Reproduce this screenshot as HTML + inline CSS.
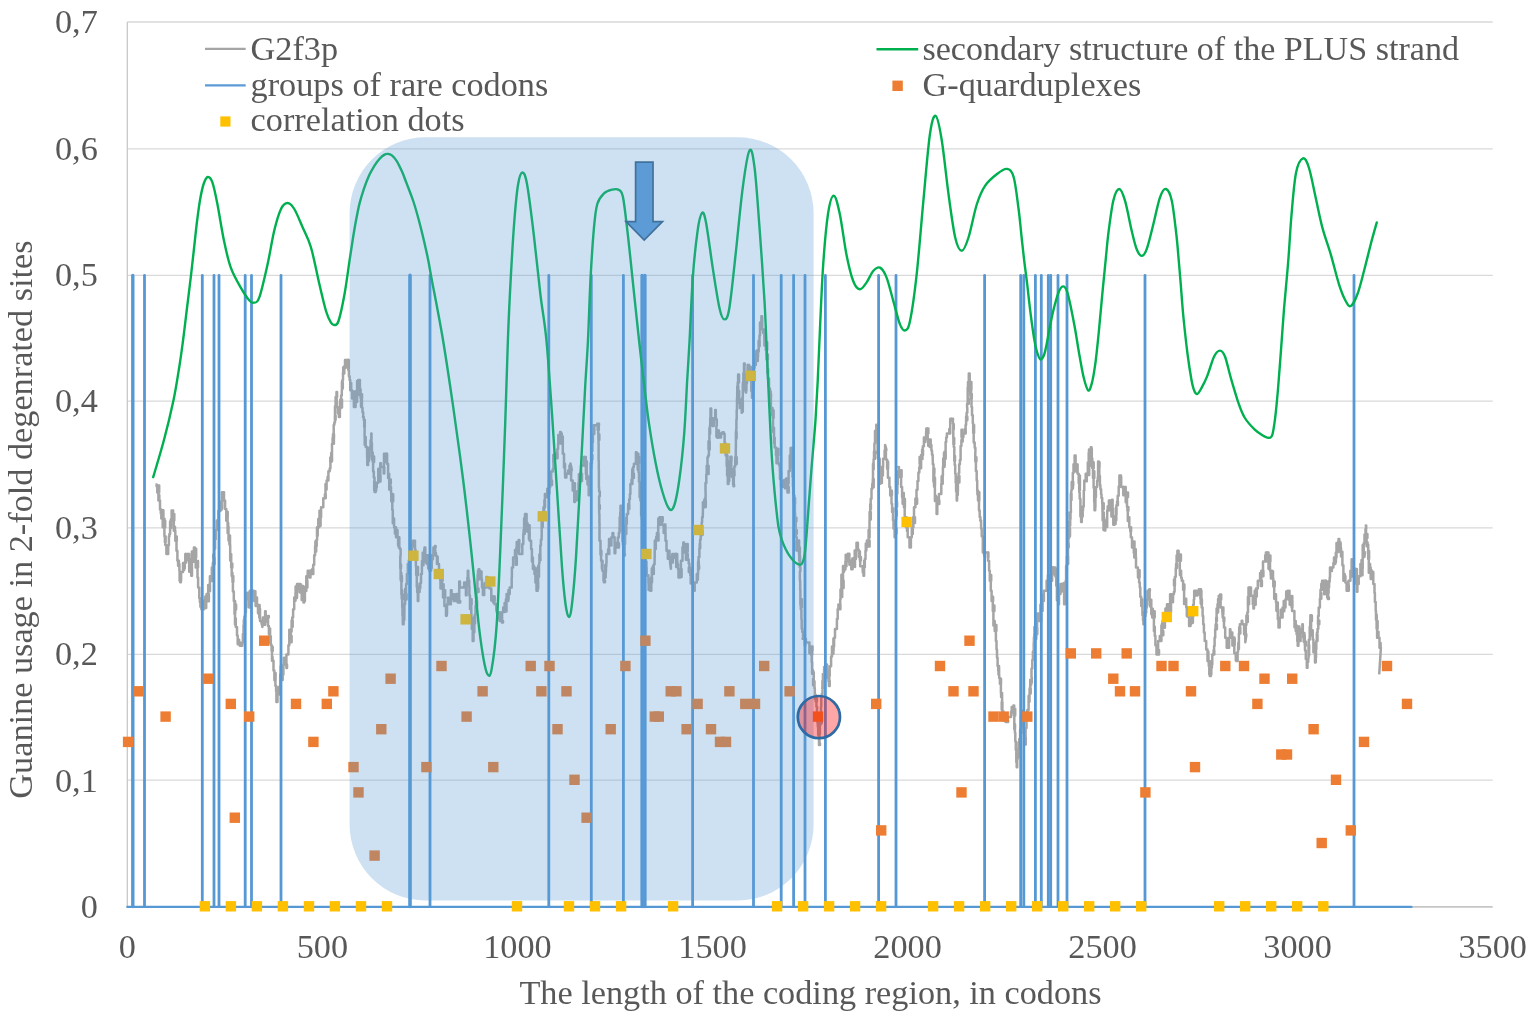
<!DOCTYPE html>
<html><head><meta charset="utf-8"><title>Guanine usage chart</title>
<style>html,body{margin:0;padding:0;background:#fff}svg{display:block}text{font-family:"Liberation Serif",serif;font-size:34.25px;fill:#595959}</style></head><body>
<svg width="1535" height="1017" viewBox="0 0 1535 1017">
<rect width="1535" height="1017" fill="#fff"/>
<defs><filter id="soft" x="0" y="0" width="100%" height="100%" filterUnits="objectBoundingBox"><feGaussianBlur stdDeviation="0.35"/></filter></defs>
<g filter="url(#soft)">
<rect width="1535" height="1017" fill="#fff"/>
<g stroke="#d9d9d9" stroke-width="1.3" fill="none">
<line x1="127.3" y1="906.9" x2="1492.7" y2="906.9" stroke="#c6c6c6" stroke-width="1.7"/>
<line x1="127.3" y1="780.2" x2="1492.7" y2="780.2"/>
<line x1="127.3" y1="654.4" x2="1492.7" y2="654.4"/>
<line x1="127.3" y1="527.9" x2="1492.7" y2="527.9"/>
<line x1="127.3" y1="401.2" x2="1492.7" y2="401.2"/>
<line x1="127.3" y1="275.4" x2="1492.7" y2="275.4"/>
<line x1="127.3" y1="148.8" x2="1492.7" y2="148.8"/>
<line x1="127.3" y1="22.0" x2="1492.7" y2="22.0"/>
<line x1="127.3" y1="22.0" x2="127.3" y2="906.9" stroke="#c8c8c8"/>
</g>
<polyline fill="none" stroke="#a5a5a5" stroke-width="2.5" stroke-linejoin="round" points="155.5,484.5 156.6,484.5 156.6,486.2 157.3,486.2 157.3,492.5 158.0,492.5 158.0,485.6 159.2,485.6 159.2,492.5 158.4,492.5 158.4,500.5 158.7,500.5 158.7,495.0 159.3,495.0 159.3,500.5 158.9,500.5 160.0,500.5 160.0,509.4 160.8,509.4 160.8,513.6 161.3,513.6 161.3,509.4 161.3,509.4 161.3,518.4 162.7,518.4 162.7,510.3 163.4,510.3 163.4,518.4 162.7,518.4 162.7,527.3 163.2,527.3 163.2,518.8 164.5,518.8 164.5,527.3 163.9,527.3 164.1,527.3 164.1,520.7 165.2,520.7 165.2,527.3 164.4,527.3 164.4,536.2 164.9,536.2 164.9,542.2 165.6,542.2 165.6,536.2 165.3,536.2 165.3,545.1 166.4,545.1 166.4,554.0 167.2,554.0 167.2,554.0 167.2,546.8 168.2,546.8 168.2,554.0 167.8,554.0 167.8,545.3 168.9,545.3 168.9,536.6 169.4,536.6 169.4,534.0 170.1,534.0 170.1,528.0 170.1,528.0 170.1,521.4 171.2,521.4 171.2,528.0 170.9,528.0 170.9,519.3 171.6,519.3 171.6,510.6 172.2,510.6 173.1,510.6 173.1,520.6 173.3,520.6 173.3,513.9 174.3,513.9 174.3,520.6 173.8,520.6 173.8,530.7 174.1,530.7 174.1,526.8 175.0,526.8 175.0,530.7 175.3,530.7 175.3,540.7 175.6,540.7 175.8,540.7 175.8,536.5 176.8,536.5 176.8,540.7 176.5,540.7 176.5,550.7 177.4,550.7 177.4,560.8 178.1,560.8 178.1,565.8 178.9,565.8 178.9,560.8 178.7,560.8 178.7,563.9 179.4,563.9 179.4,570.8 179.6,570.8 179.6,580.8 180.2,580.8 180.2,582.3 180.9,582.3 180.9,580.8 180.6,580.8 181.1,580.8 181.1,571.9 183.0,571.9 183.0,562.9 183.1,562.9 183.1,570.0 184.1,570.0 184.1,562.9 183.7,562.9 183.7,568.3 184.8,568.3 184.8,562.9 185.3,562.9 185.3,554.0 185.4,554.0 185.4,562.5 186.2,562.5 186.2,554.0 185.6,554.0 187.2,554.0 187.2,559.9 188.4,559.9 188.4,554.0 188.0,554.0 188.0,559.3 189.0,559.3 189.0,554.0 189.2,554.0 189.2,571.7 189.9,571.7 189.9,567.4 189.5,567.4 189.5,559.4 190.5,559.4 190.5,567.4 190.6,567.4 191.2,567.4 191.2,575.8 192.0,575.8 192.0,567.4 191.9,567.4 191.9,551.6 192.6,551.6 192.6,557.4 192.4,557.4 192.4,561.8 193.5,561.8 193.5,557.4 193.2,557.4 193.2,551.5 193.9,551.5 193.9,547.4 194.0,547.4 194.9,547.4 194.9,552.0 195.6,552.0 195.6,557.4 194.9,557.4 194.9,548.8 196.2,548.8 196.2,557.4 195.7,557.4 195.7,567.4 196.9,567.4 196.9,562.3 197.6,562.3 197.6,567.4 197.1,567.4 197.1,561.1 198.0,561.1 198.0,567.4 197.5,567.4 197.5,577.5 198.1,577.5 198.1,587.5 199.0,587.5 199.3,587.5 199.3,598.3 199.9,598.3 199.9,602.3 200.9,602.3 200.9,598.3 200.4,598.3 200.4,606.8 201.1,606.8 201.1,598.3 201.4,598.3 201.4,609.2 202.3,609.2 203.0,609.2 203.0,600.7 204.0,600.7 204.0,609.2 203.8,609.2 203.8,601.6 205.2,601.6 205.2,608.0 206.2,608.0 206.2,601.6 205.3,601.6 205.3,596.4 206.5,596.4 206.5,601.6 205.9,601.6 205.9,598.6 206.6,598.6 206.6,594.0 207.4,594.0 208.2,594.0 208.2,601.3 208.9,601.3 208.9,594.0 208.2,594.0 208.2,585.1 209.3,585.1 209.3,591.2 210.0,591.2 210.0,585.1 209.9,585.1 209.9,576.3 211.7,576.3 211.7,581.0 212.2,581.0 212.2,576.3 211.8,576.3 211.8,567.4 212.4,567.4 212.8,567.4 212.8,563.0 213.5,563.0 213.5,558.0 213.2,558.0 213.2,554.5 213.8,554.5 213.8,558.0 213.9,558.0 213.9,564.3 214.6,564.3 214.6,558.0 214.2,558.0 214.2,548.7 215.1,548.7 215.1,539.3 215.7,539.3 215.7,530.0 216.8,530.0 216.8,520.6 217.3,520.6 217.3,527.2 218.4,527.2 218.4,520.6 217.4,520.6 218.4,520.6 218.4,511.1 219.8,511.1 219.8,506.1 220.3,506.1 220.3,511.1 220.3,511.1 220.3,501.7 220.8,501.7 220.8,509.9 221.4,509.9 221.4,501.7 221.0,501.7 221.0,508.8 222.2,508.8 222.2,501.7 221.9,501.7 221.9,492.2 222.4,492.2 222.7,492.2 222.7,499.5 224.0,499.5 224.0,492.2 222.8,492.2 222.8,500.6 222.8,500.6 222.8,495.9 223.8,495.9 223.8,500.6 225.1,500.6 225.1,508.9 226.3,508.9 226.3,520.8 227.0,520.8 227.0,517.3 227.1,517.3 227.1,511.7 227.7,511.7 227.7,517.3 227.4,517.3 227.6,517.3 227.6,532.9 228.3,532.9 228.3,526.5 227.6,526.5 227.6,522.9 228.2,522.9 228.2,526.5 228.5,526.5 228.5,540.5 229.2,540.5 229.2,535.6 229.4,535.6 229.4,543.9 230.0,543.9 230.0,535.6 229.5,535.6 229.5,544.8 230.2,544.8 230.2,560.6 230.9,560.6 230.9,554.0 230.8,554.0 231.2,554.0 231.2,563.4 231.2,563.4 231.2,567.8 232.3,567.8 232.3,563.4 231.7,563.4 231.7,576.0 232.4,576.0 232.4,572.8 232.4,572.8 232.4,578.9 233.1,578.9 233.1,582.1 232.5,582.1 232.5,576.0 233.3,576.0 233.3,582.1 232.9,582.1 232.9,591.5 233.8,591.5 233.8,600.9 234.0,600.9 234.5,600.9 234.5,608.7 235.1,608.7 235.1,600.9 234.5,600.9 234.5,613.9 235.2,613.9 235.2,609.6 234.9,609.6 234.9,604.6 236.1,604.6 236.1,609.6 235.0,609.6 235.0,624.4 235.7,624.4 235.7,618.3 235.8,618.3 235.8,626.9 237.0,626.9 237.0,635.6 237.7,635.6 237.7,644.3 238.0,644.3 238.4,644.3 238.4,639.8 239.1,639.8 239.1,644.3 239.8,644.3 239.8,645.8 240.7,645.8 240.7,644.3 240.4,644.3 240.4,642.7 241.3,642.7 241.3,645.8 242.3,645.8 242.3,642.7 242.5,642.7 242.9,642.7 242.9,633.9 243.5,633.9 243.5,625.2 243.7,625.2 243.7,632.1 244.3,632.1 244.3,625.2 243.8,625.2 243.8,619.9 244.9,619.9 244.9,625.2 244.4,625.2 244.4,616.4 245.2,616.4 245.2,612.4 245.9,612.4 245.9,607.6 245.8,607.6 246.5,607.6 246.5,599.2 247.3,599.2 247.3,592.7 248.3,592.7 248.3,599.2 249.2,599.2 249.2,607.4 250.2,607.4 250.2,599.2 249.4,599.2 249.4,603.6 250.2,603.6 250.2,599.2 249.8,599.2 249.8,590.8 250.8,590.8 253.0,590.8 253.0,594.3 253.5,594.3 253.5,590.8 253.9,590.8 253.9,601.1 254.6,601.1 254.6,597.5 254.1,597.5 254.1,591.2 255.4,591.2 255.4,597.5 255.6,597.5 255.6,605.9 256.7,605.9 256.7,597.5 255.9,597.5 257.0,597.5 257.0,605.3 258.0,605.3 258.0,613.2 258.4,613.2 258.4,605.1 259.6,605.1 259.6,613.2 259.1,613.2 259.1,608.8 260.0,608.8 260.0,613.2 259.3,613.2 259.3,617.6 260.0,617.6 260.0,613.2 260.0,613.2 260.0,621.0 260.9,621.0 261.4,621.0 261.4,622.5 262.4,627.0 262.4,621.0 262.9,621.0 262.9,617.6 263.9,617.6 263.9,624.7 265.1,624.7 265.1,617.6 265.1,617.6 265.1,611.2 265.7,611.2 265.7,617.6 265.8,617.6 265.8,621.5 266.9,621.5 266.9,617.6 267.6,617.6 267.9,617.6 267.9,616.1 268.8,616.1 268.8,617.6 268.0,617.6 268.0,626.0 268.9,626.0 268.9,634.3 269.3,634.3 269.3,628.6 270.1,628.6 270.1,634.3 269.8,634.3 269.8,636.1 270.5,636.1 270.5,642.7 269.9,642.7 269.9,636.2 270.8,636.2 270.8,642.7 270.9,642.7 270.9,645.1 271.6,645.1 271.6,651.0 271.6,651.0 271.8,651.0 271.8,646.8 272.7,646.8 272.7,651.0 272.0,651.0 272.0,660.8 272.0,660.8 272.0,657.1 272.6,657.1 272.6,660.8 273.5,660.8 273.5,670.5 274.4,670.5 274.4,680.3 275.0,680.3 275.0,680.3 275.0,673.0 275.6,673.0 275.6,680.3 275.4,680.3 275.4,685.7 276.1,685.7 276.1,691.2 276.4,691.2 276.4,702.0 277.0,702.0 277.5,702.0 277.5,694.5 278.0,694.5 278.0,688.7 279.1,688.7 279.1,694.5 278.6,694.5 278.6,687.0 279.3,687.0 280.2,687.0 280.2,674.4 280.7,674.4 280.7,666.2 281.4,666.2 281.4,674.4 282.0,674.4 282.0,679.9 282.7,679.9 282.7,674.4 282.6,674.4 283.4,674.4 283.4,664.4 283.8,664.4 283.8,657.7 284.6,657.7 284.6,664.4 284.4,664.4 284.4,660.2 285.1,660.2 285.1,664.4 286.4,664.4 286.4,668.1 287.0,668.1 287.0,664.4 286.4,664.4 286.4,654.4 287.6,654.4 288.4,654.4 288.4,645.2 289.3,645.2 289.3,629.8 290.0,629.8 290.0,636.0 289.5,636.0 289.5,630.9 290.0,630.9 290.0,636.0 290.7,636.0 290.7,642.2 291.6,642.2 291.6,636.0 290.9,636.0 290.9,631.5 291.6,631.5 291.6,626.8 291.6,626.8 291.6,620.5 292.7,620.5 292.7,626.8 292.2,626.8 292.2,617.6 292.6,617.6 293.1,617.6 293.1,609.2 294.2,609.2 294.2,597.6 294.9,597.6 294.9,600.8 295.5,600.8 295.5,592.4 295.6,592.4 295.6,586.4 296.1,586.4 296.1,592.4 296.2,592.4 296.2,587.7 297.5,587.7 297.5,592.4 296.5,592.4 296.5,597.9 297.0,597.9 297.0,592.4 297.0,592.4 297.0,584.0 297.7,584.0 298.4,584.0 298.4,588.8 299.0,588.8 299.0,584.0 300.1,584.0 300.1,592.5 300.3,592.5 300.3,584.3 300.9,584.3 300.9,592.5 301.7,592.5 301.7,599.9 302.4,599.9 302.4,592.5 302.2,592.5 302.2,586.0 303.2,586.0 303.2,592.5 303.5,592.5 303.5,602.4 304.2,602.4 304.2,600.9 304.3,600.9 304.9,600.9 304.9,590.9 305.3,590.9 305.3,586.8 306.2,586.8 306.2,590.9 306.3,590.9 306.3,576.2 307.0,576.2 307.0,580.8 306.4,580.8 306.4,587.4 307.4,587.4 307.4,580.8 307.0,580.8 307.0,576.7 307.7,576.7 307.7,570.8 307.7,570.8 309.3,570.8 309.3,577.6 310.5,577.6 310.5,570.8 310.2,570.8 310.2,574.0 311.9,574.0 311.9,569.5 312.5,569.5 312.5,574.0 312.5,574.0 312.5,568.8 313.3,568.8 313.3,574.0 312.7,574.0 313.2,574.0 313.2,564.7 314.2,564.7 314.2,555.3 315.1,555.3 315.1,546.0 315.4,546.0 315.4,541.2 316.7,541.2 316.7,546.0 315.6,546.0 315.6,551.4 316.2,551.4 316.2,546.0 316.4,546.0 316.4,540.1 317.1,540.1 317.1,536.6 317.0,536.6 317.0,527.3 317.2,527.3 317.2,535.7 317.7,535.7 317.7,527.3 317.7,527.3 318.3,527.3 318.3,519.0 319.1,519.0 319.1,527.3 319.3,527.3 319.3,517.2 319.5,517.2 319.5,510.8 320.2,510.8 320.2,517.2 320.1,517.2 320.1,525.7 320.6,525.7 320.6,517.2 321.1,517.2 321.1,507.2 322.7,507.2 323.3,507.2 323.3,498.3 324.9,498.3 324.9,494.3 325.7,494.3 325.7,498.3 325.5,498.3 325.5,489.4 325.5,489.4 325.5,484.0 326.0,484.0 326.0,489.4 326.6,489.4 326.6,480.5 327.6,480.5 327.6,476.7 328.3,476.7 328.3,480.5 327.8,480.5 328.4,480.5 328.4,471.3 329.7,471.3 329.7,468.5 330.4,468.5 330.4,462.1 330.3,462.1 330.3,457.5 331.2,457.5 331.2,462.1 330.6,462.1 330.6,459.1 331.3,459.1 331.3,452.9 331.2,452.9 331.2,461.2 332.0,461.2 332.0,452.9 332.0,452.9 332.0,443.7 332.6,443.7 332.6,438.0 333.9,438.0 333.9,443.7 332.8,443.7 333.0,443.7 333.0,434.3 333.2,434.3 333.2,438.0 334.0,438.0 334.0,434.3 333.7,434.3 333.7,425.0 334.3,425.0 334.3,422.4 335.0,422.4 335.0,415.6 334.9,415.6 334.9,419.8 335.6,419.8 335.6,415.6 335.0,415.6 335.0,406.3 335.6,406.3 335.6,396.9 336.0,396.9 336.5,396.9 336.5,391.9 337.1,391.9 337.1,396.9 336.7,396.9 336.7,406.9 337.8,406.9 337.8,413.2 338.7,413.2 338.7,406.9 338.9,406.9 338.9,416.9 339.5,416.9 339.9,416.9 339.9,402.1 340.6,402.1 340.6,408.2 340.3,408.2 340.3,399.5 340.9,399.5 340.9,407.6 342.0,407.6 342.0,399.5 341.1,399.5 341.1,395.5 341.8,395.5 341.8,390.8 341.9,390.8 341.9,382.1 342.0,382.1 342.0,388.5 342.8,388.5 342.8,382.1 342.3,382.1 342.3,380.3 343.0,380.3 343.0,373.4 342.8,373.4 343.2,373.4 343.2,367.2 344.0,367.2 344.0,373.4 344.3,373.4 344.3,366.2 345.0,366.2 345.0,360.0 345.0,360.0 345.0,367.8 345.7,367.8 345.7,360.0 347.5,360.0 347.5,363.8 348.0,363.8 348.0,360.0 347.8,360.0 348.1,360.0 348.1,368.5 348.8,368.5 348.8,360.0 348.3,360.0 348.3,370.1 348.9,370.1 348.9,376.2 349.6,376.2 349.6,380.1 350.2,380.1 350.2,390.2 350.2,390.2 350.2,383.1 351.2,383.1 351.2,390.2 350.5,390.2 352.0,390.2 352.0,398.5 352.8,398.5 352.8,391.4 353.8,391.4 353.8,398.5 352.9,398.5 352.9,394.9 353.7,394.9 353.7,398.5 353.9,398.5 353.9,406.9 354.1,406.9 354.1,400.6 355.2,400.6 355.2,406.9 354.5,406.9 355.6,406.9 355.6,391.2 356.3,391.2 356.3,397.9 356.0,397.9 356.0,402.0 357.1,402.0 357.1,397.9 357.1,397.9 357.1,389.0 357.1,389.0 357.1,380.9 357.9,380.9 357.9,389.0 358.1,389.0 358.1,394.9 358.7,394.9 358.7,389.0 358.2,389.0 358.2,380.0 359.5,380.0 359.9,380.0 359.9,389.2 360.6,389.2 360.6,398.4 361.0,398.4 361.0,406.8 361.8,406.8 361.8,398.4 361.3,398.4 361.3,394.2 362.0,394.2 362.0,398.4 361.9,398.4 361.9,407.7 362.5,407.7 362.5,412.3 363.2,412.3 363.2,416.9 362.9,416.9 363.8,416.9 363.8,420.1 364.5,420.1 364.5,426.9 364.2,426.9 364.2,419.8 364.8,419.8 364.8,426.9 364.6,426.9 364.6,436.9 364.7,436.9 364.7,444.8 365.7,444.8 365.7,436.9 365.7,436.9 365.7,447.0 367.1,447.0 367.1,457.0 367.3,457.0 367.3,465.1 368.1,465.1 368.1,457.0 367.9,457.0 368.1,457.0 368.1,448.6 369.3,448.6 369.3,457.0 368.1,457.0 368.1,461.0 369.0,461.0 369.0,457.0 368.3,457.0 368.3,449.2 369.9,449.2 369.9,446.9 370.6,446.9 370.6,441.4 370.6,441.4 370.6,440.3 371.3,440.3 371.3,433.6 371.2,433.6 371.5,433.6 371.5,443.1 371.9,443.1 371.9,459.4 372.6,459.4 372.6,452.6 372.7,452.6 372.7,462.1 373.0,462.1 373.0,456.6 374.1,456.6 374.1,462.1 373.1,462.1 373.1,471.5 373.8,471.5 373.8,477.6 374.5,477.6 374.5,481.0 374.2,481.0 374.2,490.5 374.6,490.5 374.6,492.0 375.7,492.0 375.7,490.5 374.6,490.5 375.5,490.5 375.5,484.7 376.2,484.7 376.2,490.5 375.7,490.5 375.7,482.7 376.0,482.7 376.0,487.5 376.8,487.5 376.8,482.7 378.3,482.7 378.3,468.7 379.0,468.7 379.0,474.8 379.3,474.8 379.3,478.9 380.2,478.9 380.2,474.8 379.5,474.8 379.5,481.6 380.5,481.6 380.5,474.8 380.3,474.8 380.3,463.3 381.0,463.3 381.0,467.0 381.3,467.0 383.7,467.0 383.7,473.6 384.3,473.6 384.3,467.0 384.0,467.0 384.0,453.7 385.5,453.7 385.5,459.3 386.8,459.3 386.8,453.7 386.3,453.7 386.3,453.7 386.3,462.2 387.1,462.2 387.1,453.7 387.0,453.7 387.0,463.7 388.1,463.7 388.1,478.0 388.8,478.0 388.8,473.8 389.2,473.8 389.2,489.6 389.9,489.6 389.9,483.8 389.4,483.8 389.4,479.5 390.3,479.5 390.3,483.8 389.6,483.8 390.2,483.8 390.2,479.4 390.8,479.4 390.8,483.8 390.3,483.8 390.3,486.9 391.0,486.9 391.0,492.5 391.3,492.5 391.3,501.2 392.0,501.2 392.0,494.3 393.2,494.3 393.2,501.2 392.3,501.2 392.3,509.9 392.8,509.9 392.8,523.3 393.5,523.3 393.5,518.6 394.1,518.6 394.1,527.3 394.6,527.3 394.9,527.3 394.9,533.5 395.4,533.5 395.4,527.3 396.0,527.3 396.0,537.3 396.9,537.3 396.9,529.9 397.5,529.9 397.5,537.3 398.1,537.3 398.1,545.5 399.3,545.5 399.3,537.3 398.8,537.3 398.8,547.4 399.7,547.4 399.9,547.4 399.9,549.1 400.6,549.1 400.6,555.9 400.3,555.9 400.3,568.2 401.0,568.2 401.0,564.5 400.6,564.5 400.6,579.5 401.3,579.5 401.3,573.0 401.0,573.0 401.0,581.6 401.2,581.6 401.2,575.9 401.9,575.9 401.9,581.6 401.4,581.6 401.4,594.6 402.1,594.6 402.1,590.1 401.7,590.1 401.7,598.7 401.8,598.7 401.8,594.5 403.1,594.5 403.1,598.7 402.2,598.7 402.2,607.2 402.5,607.2 402.5,615.8 402.8,615.8 402.8,624.3 403.0,624.3 403.6,624.3 403.6,620.1 404.3,620.1 404.3,614.2 404.4,614.2 404.4,604.2 405.1,604.2 405.1,590.4 405.8,590.4 405.8,594.1 405.2,594.1 405.2,588.7 405.8,588.7 405.8,594.1 406.0,594.1 406.0,599.4 406.6,599.4 406.6,594.1 406.1,594.1 406.1,584.0 406.4,584.0 406.9,584.0 406.9,574.0 407.8,574.0 407.8,564.0 408.2,564.0 408.2,571.4 409.1,571.4 409.1,564.0 408.8,564.0 408.8,560.5 409.5,560.5 409.5,554.0 409.6,554.0 409.6,560.7 410.5,560.7 410.5,554.0 409.7,554.0 410.8,554.0 410.8,558.1 411.8,558.1 411.8,554.0 411.9,554.0 411.9,558.6 412.9,558.6 412.9,554.0 412.0,554.0 412.0,544.0 412.7,544.0 412.7,540.7 413.8,540.7 413.8,546.3 414.6,546.3 414.6,540.7 414.7,540.7 415.0,540.7 415.0,549.3 415.4,549.3 415.4,557.9 415.9,557.9 415.9,566.5 416.2,566.5 416.2,575.1 416.8,575.1 416.8,567.0 418.0,567.0 418.0,575.1 416.8,575.1 416.8,586.9 417.5,586.9 417.5,583.7 417.2,583.7 417.2,592.3 417.7,592.3 417.7,587.0 419.0,587.0 419.0,592.3 417.8,592.3 417.8,600.9 418.0,600.9 418.3,600.9 418.3,592.0 419.6,592.0 419.6,588.1 420.3,588.1 420.3,583.1 421.0,583.1 421.0,574.1 421.9,574.1 421.9,565.2 422.0,565.2 422.0,561.1 422.8,561.1 422.8,565.2 422.7,565.2 422.7,560.2 423.5,560.2 423.5,565.2 422.7,565.2 422.7,552.7 423.4,552.7 423.4,556.3 424.0,556.3 424.0,560.5 424.7,560.5 424.7,556.3 424.2,556.3 424.2,549.8 425.3,549.8 425.3,556.3 424.5,556.3 424.5,547.4 424.7,547.4 425.3,547.4 425.3,561.5 426.0,561.5 426.0,555.2 426.2,555.2 426.2,563.1 426.9,563.1 426.9,555.2 426.9,555.2 426.9,563.9 428.1,563.9 428.1,555.2 427.2,555.2 427.2,563.0 428.2,563.0 428.2,568.4 429.4,568.4 429.4,563.0 428.7,563.0 428.7,566.3 429.4,566.3 429.4,570.8 429.8,570.8 431.1,570.8 431.1,563.0 431.2,563.0 431.2,568.1 431.8,568.1 431.8,563.0 431.9,563.0 431.9,555.2 432.1,555.2 432.1,559.3 432.9,559.3 432.9,555.2 433.4,555.2 433.4,547.4 434.5,547.4 434.5,555.2 434.2,555.2 434.2,547.4 434.8,547.4 434.9,547.4 434.9,545.9 435.6,545.9 435.6,547.4 435.2,547.4 435.2,552.7 435.9,552.7 435.9,555.8 436.9,555.8 436.9,564.1 437.1,564.1 437.1,558.7 437.6,558.7 437.6,564.1 437.1,564.1 437.1,556.7 437.7,556.7 437.7,564.1 439.0,564.1 439.0,575.8 439.7,575.8 439.7,572.4 440.3,572.4 440.3,580.8 440.5,580.8 440.5,588.4 441.2,588.4 441.2,580.8 441.5,580.8 441.6,580.8 441.6,572.9 442.6,572.9 442.6,580.8 442.0,580.8 442.0,584.7 442.7,584.7 442.7,589.2 443.0,589.2 443.0,584.2 443.6,584.2 443.6,589.2 443.0,589.2 443.0,597.5 444.0,597.5 444.0,590.2 445.2,590.2 445.2,597.5 444.4,597.5 444.4,605.9 446.0,605.9 446.0,615.8 446.7,615.8 446.7,614.3 446.5,614.3 447.0,614.3 447.0,604.2 447.8,604.2 447.8,597.7 448.5,597.7 448.5,604.2 448.3,604.2 448.3,597.8 448.8,597.8 448.8,604.2 449.1,604.2 449.1,599.7 450.1,599.7 450.1,604.2 450.9,604.2 450.9,590.2 451.6,590.2 451.6,594.2 451.5,594.2 452.3,594.2 452.3,598.8 453.1,598.8 453.1,594.2 453.7,594.2 453.7,600.9 455.5,600.9 455.5,594.3 456.6,594.3 456.6,600.9 456.2,600.9 456.2,593.9 457.2,593.9 457.2,600.9 457.7,600.9 457.7,602.4 459.0,602.4 459.0,600.9 458.2,600.9 459.0,600.9 459.0,602.4 460.2,602.4 460.2,600.9 459.0,600.9 459.0,602.4 459.9,602.4 459.9,600.9 459.2,600.9 459.2,581.6 459.9,581.6 459.9,587.5 463.2,587.5 464.1,587.5 464.1,582.6 464.7,582.6 464.7,587.5 465.9,587.5 465.9,595.3 466.6,595.3 466.6,587.5 466.7,587.5 466.7,581.7 467.4,581.7 467.4,577.5 467.8,577.5 467.8,570.8 468.3,570.8 468.3,577.5 468.2,577.5 468.5,577.5 468.5,580.5 469.2,580.5 469.2,586.6 469.4,586.6 469.4,595.6 470.0,595.6 470.0,609.0 470.7,609.0 470.7,604.7 470.6,604.7 470.6,599.3 471.6,599.3 471.6,604.7 470.6,604.7 470.6,607.1 471.3,607.1 471.3,613.8 471.4,613.8 471.4,617.7 472.1,617.7 472.1,622.9 471.5,622.9 471.5,617.9 472.8,617.9 472.8,622.9 471.8,622.9 471.8,628.9 472.7,628.9 472.7,622.9 472.1,622.9 472.1,625.9 472.8,625.9 472.8,631.9 472.7,631.9 472.7,641.0 473.2,641.0 473.5,641.0 473.5,632.2 474.3,632.2 474.3,616.7 475.0,616.7 475.0,623.4 474.7,623.4 474.7,614.7 475.5,614.7 475.5,605.9 476.0,605.9 476.0,600.7 477.1,600.7 477.1,605.9 476.2,605.9 476.2,602.9 476.9,602.9 476.9,597.1 476.5,597.1 476.5,588.4 477.2,588.4 477.2,592.1 478.5,592.1 478.5,588.4 477.4,588.4 477.4,579.6 477.6,579.6 477.6,575.0 478.5,575.0 478.5,579.6 478.0,579.6 478.0,570.8 478.3,570.8 478.6,570.8 478.6,569.3 479.3,569.3 479.3,570.8 479.8,570.8 479.8,579.2 480.8,579.2 480.8,571.5 481.5,571.5 481.5,579.2 482.0,579.2 482.0,587.5 482.9,587.5 482.9,595.0 484.2,595.0 484.2,587.5 483.3,587.5 484.6,587.5 484.6,583.3 485.7,583.3 485.7,587.5 486.0,587.5 486.0,583.5 486.7,583.5 486.7,587.5 486.0,587.5 486.0,580.8 486.5,580.8 486.5,577.1 487.7,577.1 487.7,580.8 488.3,580.8 488.3,580.8 488.3,587.2 489.0,587.2 489.0,580.8 488.8,580.8 488.8,584.2 489.5,584.2 489.5,588.6 491.3,588.6 491.3,600.4 492.0,600.4 492.0,596.4 493.1,596.4 493.1,602.1 494.0,602.1 494.0,596.4 493.2,596.4 493.2,602.4 494.3,602.4 494.3,596.4 493.7,596.4 493.7,600.4 494.7,600.4 494.7,596.4 494.5,596.4 494.5,604.2 495.0,604.2 496.3,604.2 496.3,610.4 497.1,610.4 497.1,604.2 496.8,604.2 496.8,612.6 497.6,612.6 497.6,618.2 498.9,618.2 498.9,612.6 498.4,612.6 498.4,617.8 499.1,617.8 499.1,612.6 499.5,612.6 499.5,620.8 500.2,620.8 500.2,612.6 500.3,612.6 500.3,621.0 501.7,621.0 501.9,621.0 501.9,622.5 503.0,622.5 503.0,621.0 502.1,621.0 502.1,612.0 503.2,612.0 503.2,607.4 503.8,607.4 503.8,612.0 504.6,612.0 504.6,603.0 505.3,603.0 505.3,611.4 506.5,611.4 506.5,603.0 505.9,603.0 505.9,599.2 506.6,599.2 506.6,594.0 506.7,594.0 507.3,594.0 507.3,599.0 508.6,599.0 508.6,594.0 507.5,594.0 507.5,601.0 508.3,601.0 508.3,594.0 508.5,594.0 508.5,590.1 509.2,590.1 509.2,594.0 509.0,594.0 509.0,594.1 509.7,594.1 509.7,587.5 511.7,587.5 511.7,587.5 511.7,577.5 511.9,577.5 511.9,567.4 512.0,567.4 513.1,567.4 513.1,557.4 515.0,557.4 515.0,549.9 516.2,549.9 516.2,557.4 515.8,557.4 515.8,564.8 516.8,564.8 516.8,557.4 516.4,557.4 516.4,547.4 516.7,547.4 516.7,542.0 517.5,542.0 517.5,547.4 517.0,547.4 517.8,547.4 517.8,552.3 518.9,552.3 518.9,547.4 518.1,547.4 518.1,552.6 518.8,552.6 518.8,547.4 518.6,547.4 518.6,540.0 519.3,540.0 519.3,547.4 519.1,547.4 519.1,554.0 522.0,554.0 522.3,554.0 522.3,544.0 523.3,544.0 523.3,534.0 523.6,534.0 523.6,530.0 524.7,530.0 524.7,534.0 524.1,534.0 524.1,518.2 524.8,518.2 524.8,524.0 524.3,524.0 524.3,531.1 525.4,531.1 525.4,524.0 525.0,524.0 525.0,514.0 525.4,514.0 526.6,514.0 526.6,527.0 527.3,527.0 527.3,522.9 527.5,522.9 527.5,531.8 528.7,531.8 528.7,525.2 529.6,525.2 529.6,531.8 528.9,531.8 528.9,539.1 529.6,539.1 529.6,531.8 529.2,531.8 529.2,536.9 529.7,536.9 529.7,531.8 529.6,531.8 529.6,540.7 530.4,540.7 531.1,540.7 531.1,549.0 531.9,549.0 531.9,561.6 532.6,561.6 532.6,557.4 532.9,557.4 532.9,569.1 533.6,569.1 533.6,565.8 534.0,565.8 534.0,568.8 534.7,568.8 534.7,574.1 534.5,574.1 534.5,568.0 535.7,568.0 535.7,574.1 535.4,574.1 535.4,582.5 536.0,582.5 536.0,575.0 536.8,575.0 536.8,582.5 536.5,582.5 536.5,590.8 536.9,590.8 536.9,582.6 537.7,582.6 537.7,590.8 536.9,590.8 536.9,585.9 537.4,585.9 537.4,590.8 537.0,590.8 537.5,590.8 537.5,588.3 538.2,588.3 538.2,581.7 538.1,581.7 538.1,575.6 538.8,575.6 538.8,572.7 538.2,572.7 538.2,565.9 539.0,565.9 539.0,572.7 538.5,572.7 538.5,576.8 539.0,576.8 539.0,572.7 539.0,572.7 539.0,563.6 539.4,563.6 539.4,554.5 539.7,554.5 539.7,560.2 540.4,560.2 540.4,554.5 540.3,554.5 540.3,545.4 540.9,545.4 540.9,539.8 541.6,539.8 541.6,536.4 541.7,536.4 541.7,520.6 542.4,520.6 542.4,527.3 542.0,527.3 542.7,527.3 542.7,517.3 543.4,517.3 543.4,514.2 544.1,514.2 544.1,507.2 543.5,507.2 543.5,512.1 544.1,512.1 544.1,507.2 544.4,507.2 544.4,500.2 545.0,500.2 545.0,507.2 544.9,507.2 544.9,494.0 545.6,494.0 545.6,497.2 545.4,497.2 547.3,497.2 547.3,488.8 547.3,488.8 547.3,493.7 548.4,493.7 548.4,488.8 548.5,488.8 548.5,493.5 549.4,493.5 549.4,488.8 549.1,488.8 549.1,480.5 549.7,480.5 549.7,487.3 550.2,487.3 550.2,480.5 550.5,480.5 550.9,480.5 550.9,484.9 552.0,484.9 552.0,480.5 551.2,480.5 551.2,471.6 552.8,471.6 552.8,468.9 553.5,468.9 553.5,462.6 553.3,462.6 553.3,454.9 554.2,454.9 554.2,462.6 554.7,462.6 554.7,453.7 555.5,453.7 556.2,453.7 556.2,458.3 557.5,458.3 557.5,453.7 557.4,453.7 557.4,448.9 558.1,448.9 558.1,443.6 558.3,443.6 558.3,435.0 559.6,435.0 559.6,443.6 559.8,443.6 559.8,435.6 560.4,435.6 560.4,443.6 559.8,443.6 559.8,439.0 560.5,439.0 560.5,433.6 560.1,433.6 560.1,432.1 560.8,432.1 560.8,433.6 561.5,433.6 561.8,433.6 561.8,443.7 562.1,443.7 562.1,436.6 562.8,436.6 562.8,443.7 562.8,443.7 562.8,453.7 564.0,453.7 564.0,467.4 564.7,467.4 564.7,463.8 565.0,463.8 565.0,473.8 565.1,473.8 565.1,477.6 566.4,477.6 566.4,473.8 565.5,473.8 568.1,473.8 568.1,470.4 569.5,470.4 569.5,465.6 570.6,465.6 570.6,470.4 570.4,470.4 570.4,474.2 571.2,474.2 571.2,470.4 570.5,470.4 570.5,463.5 571.7,468.9 571.7,470.4 570.5,470.4 571.1,470.4 571.1,480.4 572.7,480.4 572.7,490.5 573.7,490.5 573.7,485.1 574.7,485.1 574.7,490.5 573.8,490.5 573.8,483.3 574.9,483.3 574.9,490.5 574.3,490.5 574.3,502.0 575.0,502.0 575.0,500.5 574.7,500.5 574.7,491.8 575.8,491.8 575.8,500.5 575.5,500.5 576.3,500.5 576.3,491.6 577.1,491.6 577.1,500.0 577.6,500.0 577.6,491.6 578.5,491.6 578.5,482.7 578.6,482.7 578.6,489.1 579.3,489.1 579.3,482.7 578.9,482.7 578.9,474.2 580.0,474.2 580.0,482.7 579.8,482.7 579.8,473.8 580.6,473.8 580.9,473.8 580.9,481.1 582.0,481.1 582.0,473.8 581.1,473.8 581.1,465.4 583.7,465.4 583.7,457.0 584.6,457.0 584.6,462.8 585.8,462.8 585.8,457.0 585.0,457.0 585.2,457.0 585.2,466.2 585.9,466.2 585.9,474.0 586.7,474.0 586.7,466.2 586.0,466.2 586.0,461.3 586.8,461.3 586.8,466.2 586.3,466.2 586.3,479.0 587.0,479.0 587.0,475.4 587.5,475.4 587.5,484.6 588.7,484.6 588.7,495.3 589.4,495.3 589.4,493.8 589.0,493.8 589.2,493.8 589.2,485.2 589.8,485.2 589.8,476.7 589.8,476.7 589.8,484.7 590.6,484.7 590.6,476.7 590.6,476.7 590.6,462.9 591.3,462.9 591.3,468.1 591.2,468.1 591.2,463.4 591.9,463.4 591.9,459.5 591.2,459.5 591.2,455.1 592.4,455.1 592.4,459.5 591.6,459.5 591.6,447.0 592.3,447.0 592.3,451.0 592.4,451.0 592.4,442.4 592.9,442.4 592.9,433.9 593.6,433.9 593.6,425.9 594.3,425.9 594.3,433.9 593.6,433.9 593.6,425.3 594.0,425.3 597.3,425.3 597.3,423.8 598.0,423.8 598.0,425.3 597.7,425.3 597.7,430.1 598.8,430.1 598.8,425.3 598.2,425.3 598.2,423.8 599.0,423.8 599.0,425.3 598.3,425.3 598.3,425.3 598.3,434.2 598.4,434.2 598.4,439.9 599.3,439.9 599.3,434.2 598.5,434.2 598.5,443.1 598.6,443.1 598.6,451.9 598.6,451.9 598.6,460.8 598.8,460.8 598.8,469.7 598.9,469.7 598.9,478.6 598.9,478.6 598.9,487.4 599.1,487.4 599.1,491.6 599.8,491.6 599.8,496.3 599.1,496.3 599.1,509.0 599.8,509.0 599.8,505.2 599.2,505.2 599.2,514.1 599.4,514.1 599.4,522.9 599.5,522.9 599.5,531.8 599.5,531.8 599.5,540.7 599.6,540.7 600.5,540.7 600.5,554.7 601.2,554.7 601.2,550.7 600.9,550.7 600.9,555.2 601.4,555.2 601.4,550.7 601.1,550.7 601.1,560.8 601.9,560.8 601.9,568.8 602.5,568.8 602.5,560.8 602.4,560.8 602.4,570.8 603.5,570.8 603.5,580.8 603.9,580.8 603.9,582.3 605.0,582.3 605.0,580.8 604.0,580.8 604.4,580.8 604.4,571.9 604.7,571.9 604.7,577.6 605.7,577.6 605.7,571.9 605.3,571.9 605.3,564.9 606.0,564.9 606.0,571.9 605.6,571.9 605.6,566.4 606.3,566.4 606.3,562.9 606.5,562.9 606.5,554.0 607.3,554.0 608.1,554.0 608.1,549.6 609.3,549.6 609.3,554.0 608.9,554.0 608.9,545.6 609.0,545.6 609.0,539.1 609.6,539.1 609.6,545.6 609.1,545.6 609.1,540.4 610.2,540.4 610.2,545.6 611.4,545.6 611.4,537.3 612.3,537.3 612.5,537.3 612.5,533.0 613.3,533.0 613.3,537.3 614.6,537.3 614.6,553.3 615.3,553.3 615.3,547.4 616.0,547.4 616.0,543.2 617.2,543.2 617.2,547.4 617.2,547.4 617.2,542.6 618.3,542.6 618.3,547.4 617.4,547.4 617.6,547.4 617.6,543.2 618.9,543.2 618.9,547.4 617.8,547.4 617.8,537.4 618.8,537.4 618.8,533.1 619.5,533.1 619.5,527.3 619.7,527.3 619.7,517.3 620.2,517.3 620.2,512.6 621.5,512.6 621.5,517.3 620.5,517.3 620.5,505.7 621.2,505.7 621.2,507.2 620.7,507.2 621.1,507.2 621.1,516.6 621.8,516.6 621.8,530.8 622.5,530.8 622.5,525.9 622.4,525.9 622.4,535.3 622.4,535.3 622.4,541.3 623.7,541.3 623.7,535.3 622.9,535.3 622.9,544.6 623.6,544.6 623.6,550.3 624.3,550.3 624.3,554.0 623.8,554.0 623.8,555.5 624.9,555.5 624.9,554.0 624.0,554.0 624.6,554.0 624.6,544.0 625.1,544.0 625.1,534.0 625.2,534.0 625.2,526.4 626.3,526.4 626.3,534.0 625.6,534.0 625.6,528.1 626.3,528.1 626.3,534.0 626.0,534.0 626.0,518.0 626.7,518.0 626.7,524.0 626.8,524.0 626.8,514.0 627.4,514.0 628.1,514.0 628.1,506.9 628.8,506.9 628.8,504.0 628.2,504.0 628.2,508.9 629.3,508.9 629.3,504.0 629.2,504.0 629.2,499.2 629.9,499.2 629.9,493.9 630.4,493.9 630.4,483.9 631.5,483.9 631.5,479.8 632.4,479.8 632.4,483.9 632.1,483.9 632.1,473.8 632.2,473.8 632.2,470.0 633.0,470.0 633.0,473.8 632.4,473.8 632.5,473.8 632.5,468.5 633.2,468.5 633.2,473.8 633.0,473.8 633.0,477.9 633.9,477.9 633.9,473.8 633.2,473.8 633.2,466.9 633.9,466.9 633.9,463.8 635.9,463.8 635.9,452.2 636.6,452.2 636.6,453.7 637.3,453.7 637.3,460.9 638.4,460.9 638.4,453.7 637.4,453.7 637.7,453.7 637.7,469.8 638.4,469.8 638.4,463.1 638.6,463.1 638.6,456.9 639.3,456.9 639.3,463.1 638.6,463.1 638.6,472.4 639.0,472.4 639.0,481.8 639.6,481.8 639.6,497.3 640.3,497.3 640.3,491.1 640.3,491.1 640.3,483.7 641.5,483.7 641.5,491.1 640.4,491.1 640.4,500.5 640.8,500.5 641.1,500.5 641.1,515.2 641.8,515.2 641.8,510.1 642.0,510.1 642.0,519.6 642.6,519.6 642.6,529.2 643.3,529.2 643.3,538.7 644.1,538.7 644.1,548.3 644.3,548.3 644.3,556.2 645.4,556.2 645.4,548.3 644.7,548.3 644.7,552.8 645.4,552.8 645.4,548.3 644.8,548.3 644.8,557.8 645.6,557.8 645.6,567.4 645.7,567.4 645.7,561.5 646.5,561.5 646.5,567.4 645.8,567.4 645.9,567.4 645.9,575.4 646.7,575.4 646.7,567.4 646.5,567.4 646.5,575.2 648.4,575.2 648.4,583.0 648.6,583.0 648.6,590.1 649.3,590.1 649.3,583.0 649.2,583.0 649.2,579.0 650.1,579.0 650.1,583.0 650.3,583.0 650.3,590.8 650.8,590.8 651.3,590.8 651.3,582.5 651.4,582.5 651.4,576.9 652.0,576.9 652.0,582.5 651.8,582.5 651.8,568.4 652.5,568.4 652.5,574.1 652.5,574.1 652.5,567.6 653.8,567.6 653.8,574.1 653.1,574.1 653.1,565.8 653.9,565.8 653.9,564.2 654.6,564.2 654.6,557.4 654.7,557.4 654.7,549.0 654.8,549.0 654.8,540.5 655.8,540.5 655.8,549.0 655.4,549.0 655.4,540.7 655.8,540.7 656.2,540.7 656.2,537.1 656.9,537.1 656.9,532.9 657.9,532.9 657.9,540.4 658.5,540.4 658.5,532.9 658.2,532.9 658.2,525.1 658.3,525.1 658.3,518.4 659.3,518.4 659.3,525.1 658.8,525.1 658.8,519.5 660.0,519.5 660.0,525.1 659.5,525.1 659.5,517.3 660.8,517.3 662.1,517.3 662.1,521.3 662.7,521.3 662.7,517.3 662.2,517.3 662.2,525.1 663.7,525.1 663.7,532.9 664.4,532.9 664.4,524.5 665.4,524.5 665.4,532.9 664.5,532.9 664.5,524.5 665.1,524.5 665.1,532.9 665.5,532.9 665.5,540.7 665.9,540.7 666.5,540.7 666.5,550.7 667.8,550.7 667.8,558.8 668.4,558.8 668.4,550.7 668.2,550.7 668.2,554.6 669.2,554.6 669.2,550.7 669.5,550.7 669.5,556.4 670.2,556.4 670.2,560.7 670.0,560.7 670.0,562.2 670.9,568.8 670.9,560.7 670.9,560.7 672.3,560.7 672.3,557.6 673.0,557.6 673.0,554.0 672.3,554.0 672.3,562.4 672.9,562.4 672.9,554.0 673.8,554.0 673.8,557.9 675.1,557.9 675.1,554.0 675.5,554.0 675.5,558.2 676.0,558.2 676.0,554.0 675.9,554.0 676.0,554.0 676.0,558.8 677.2,558.8 677.2,554.0 676.2,554.0 676.2,567.0 676.9,567.0 676.9,561.8 676.6,561.8 676.6,555.6 677.2,555.6 677.2,561.8 677.4,561.8 677.4,564.2 678.1,564.2 678.1,569.7 678.5,569.7 678.5,577.5 679.2,577.5 680.1,577.5 680.1,569.1 680.5,569.1 680.5,577.1 681.6,577.1 681.6,569.1 680.9,569.1 680.9,560.8 682.5,560.8 682.5,547.3 683.2,547.3 683.2,552.4 683.2,552.4 683.2,548.7 683.8,548.7 683.8,552.4 683.3,552.4 683.3,542.5 684.0,542.5 684.0,544.0 684.0,544.0 684.0,552.1 684.7,552.1 684.7,544.0 684.2,544.0 684.9,544.0 684.9,548.7 685.6,548.7 685.6,551.8 685.9,551.8 685.9,559.7 687.1,559.7 687.1,551.8 687.0,551.8 687.0,544.1 687.7,544.1 687.7,551.8 687.1,551.8 687.1,553.9 687.8,553.9 687.8,559.6 688.7,559.6 688.7,563.6 689.4,563.6 689.4,567.4 688.8,567.4 688.8,572.0 690.0,572.0 690.0,567.4 689.3,567.4 690.3,567.4 690.3,570.4 691.0,570.4 691.0,575.2 690.3,575.2 690.3,569.8 691.5,569.8 691.5,575.2 690.7,575.2 690.7,583.5 691.8,583.5 691.8,575.2 692.2,575.2 692.2,582.9 692.9,582.9 692.9,575.2 692.2,575.2 692.2,583.0 693.3,583.0 693.3,590.8 694.3,590.8 694.7,590.8 694.7,582.4 696.8,582.4 696.8,574.0 696.9,574.0 696.9,579.8 697.9,579.8 697.9,574.0 697.2,574.0 697.2,578.6 697.9,578.6 697.9,574.0 697.6,574.0 698.1,574.0 698.1,561.6 698.8,561.6 698.8,565.4 698.3,565.4 698.3,569.1 699.1,569.1 699.1,565.4 698.6,565.4 698.6,556.9 699.4,556.9 699.4,548.3 699.7,548.3 699.7,543.7 700.2,543.7 700.2,548.3 700.1,548.3 700.1,539.7 700.7,539.7 700.7,535.5 701.4,535.5 701.4,531.1 701.5,531.1 701.5,534.9 702.5,534.9 702.5,531.1 701.7,531.1 701.7,522.6 702.1,522.6 702.1,517.2 702.8,517.2 702.8,514.0 702.6,514.0 702.9,514.0 702.9,502.2 703.6,502.2 703.6,507.0 704.3,507.0 704.3,500.0 704.6,500.0 704.6,507.3 705.2,507.3 705.2,500.0 704.7,500.0 704.8,500.0 704.8,507.1 705.8,507.1 705.8,500.0 704.9,500.0 704.9,498.3 705.6,498.3 705.6,491.5 705.5,491.5 705.5,482.9 706.3,482.9 706.3,474.4 706.7,474.4 706.7,465.8 707.5,465.8 707.5,473.9 708.6,473.9 708.6,465.8 707.5,465.8 707.5,457.3 707.7,457.3 708.2,457.3 708.2,455.6 708.9,455.6 708.9,449.4 708.5,449.4 708.5,441.3 709.7,441.3 709.7,449.4 708.8,449.4 708.8,445.0 709.5,445.0 709.5,441.6 709.4,441.6 709.4,428.2 710.1,428.2 710.1,433.7 709.7,433.7 709.9,433.7 709.9,425.8 710.2,425.8 710.2,418.0 710.5,418.0 710.5,408.6 711.2,408.6 711.2,410.1 710.6,410.1 710.6,410.1 710.6,408.6 711.2,408.6 711.2,410.1 711.2,410.1 711.2,424.4 711.9,424.4 711.9,418.1 712.4,418.1 712.4,426.0 712.6,426.0 713.1,426.0 713.1,418.7 713.7,418.7 713.7,426.0 713.3,426.0 713.3,423.8 714.0,423.8 714.0,418.1 715.2,418.1 715.2,410.1 715.6,410.1 715.8,410.1 715.8,418.0 716.1,418.0 716.1,419.6 716.8,419.6 716.8,425.8 716.4,425.8 716.4,436.8 717.1,436.8 717.1,433.7 716.5,433.7 717.3,433.7 717.3,437.7 717.8,437.7 717.8,433.7 717.4,433.7 717.4,437.6 717.9,437.6 717.9,430.6 719.0,430.6 719.0,437.6 719.5,437.6 719.8,437.6 719.8,433.6 721.0,433.6 721.0,437.6 721.0,437.6 721.0,433.7 722.5,433.7 722.5,432.2 723.7,432.2 723.7,433.7 723.4,433.7 724.6,433.7 724.6,443.5 724.6,443.5 724.6,452.1 725.4,452.1 725.4,443.5 725.4,443.5 725.7,443.5 725.7,455.6 726.4,455.6 726.4,451.9 726.7,451.9 726.7,465.9 727.4,465.9 727.4,460.2 726.7,460.2 726.7,455.6 727.5,455.6 727.5,460.2 726.9,460.2 726.9,464.2 727.4,464.2 727.4,460.2 727.1,460.2 727.1,475.5 727.8,475.5 727.8,468.6 727.8,468.6 727.8,483.9 728.5,483.9 728.5,477.0 728.3,477.0 728.3,477.0 728.3,480.9 729.3,480.9 729.3,477.0 728.8,477.0 728.8,472.7 729.5,472.7 729.5,469.1 729.7,469.1 729.7,461.2 730.1,461.2 730.1,467.3 731.3,467.3 731.3,461.2 730.3,461.2 730.4,461.2 730.4,456.8 731.5,456.8 731.5,461.2 731.0,461.2 731.0,469.1 731.1,469.1 731.1,475.5 732.2,475.5 732.2,469.1 732.0,469.1 732.0,476.9 733.1,476.9 733.1,484.8 733.3,484.8 733.5,484.8 733.5,486.3 734.1,486.3 734.1,484.8 733.8,484.8 733.8,470.7 734.5,470.7 734.5,475.6 734.3,475.6 734.3,466.5 735.2,466.5 735.2,457.3 735.6,457.3 735.7,457.3 735.7,464.0 736.7,464.0 736.7,457.3 735.8,457.3 735.8,447.9 735.9,447.9 735.9,431.7 736.6,431.7 736.6,438.4 736.2,438.4 736.2,429.0 736.4,429.0 736.4,419.5 736.7,419.5 736.7,410.1 736.8,410.1 737.0,410.1 737.0,397.7 737.7,397.7 737.7,400.9 737.2,400.9 737.2,391.8 737.3,391.8 737.3,386.3 738.3,386.3 738.3,391.8 737.7,391.8 737.7,382.6 737.8,382.6 738.1,382.6 738.1,374.5 739.0,374.5 739.0,382.6 738.1,382.6 738.1,391.1 739.2,391.1 739.2,403.1 739.9,403.1 739.9,399.6 739.9,399.6 739.9,408.1 740.1,408.1 741.1,408.1 741.1,402.6 741.8,402.6 741.8,406.2 741.7,406.2 741.7,412.8 742.8,411.6 742.8,406.2 742.1,406.2 742.1,406.2 742.1,399.5 742.8,399.5 742.8,406.2 742.2,406.2 742.2,397.9 742.8,397.9 742.8,383.5 743.5,383.5 743.5,389.7 743.2,389.7 743.2,381.4 743.4,381.4 743.4,373.2 744.0,373.2 744.0,363.4 744.7,363.4 744.7,364.9 744.1,364.9 744.5,364.9 744.5,374.1 745.2,374.1 745.2,383.2 745.2,383.2 745.2,390.8 746.4,390.8 746.4,383.2 745.8,383.2 745.8,392.4 746.0,392.4 746.1,392.4 746.1,383.2 747.0,383.2 747.0,374.1 747.6,374.1 747.6,364.9 747.7,364.9 747.7,371.4 748.5,371.4 748.5,364.9 748.0,364.9 748.1,364.9 748.1,371.5 749.2,371.5 749.2,364.9 748.5,364.9 748.5,367.0 750.0,367.0 750.1,367.0 750.1,373.3 751.3,373.3 751.3,367.0 750.3,367.0 750.3,380.6 751.0,380.6 751.0,376.8 751.3,376.8 751.3,391.1 752.0,391.1 752.0,386.5 752.0,386.5 752.0,397.8 752.7,397.8 752.7,396.3 752.5,396.3 752.8,396.3 752.8,387.0 753.5,387.0 753.5,380.9 754.2,380.9 754.2,377.6 754.0,377.6 754.0,368.3 754.5,368.3 754.5,364.1 755.2,364.1 755.2,359.0 754.9,359.0 754.9,365.1 755.8,365.1 755.8,359.0 754.9,359.0 755.9,359.0 755.9,351.5 756.6,351.5 756.6,357.0 756.6,357.0 756.6,361.0 757.8,361.0 757.8,357.0 756.7,357.0 756.7,350.4 757.3,350.4 757.3,357.0 757.8,357.0 758.0,357.0 758.0,351.6 758.7,351.6 758.7,346.2 758.6,346.2 758.6,340.8 759.6,340.8 759.6,346.2 759.5,346.2 759.5,335.4 759.8,335.4 760.0,335.4 760.0,322.6 760.7,322.6 760.7,326.5 760.5,326.5 760.5,322.4 761.2,322.4 761.2,326.5 761.4,326.5 761.4,316.2 762.1,316.2 762.1,317.7 761.8,317.7 762.2,317.7 762.2,329.5 763.1,329.5 763.1,333.1 764.2,333.1 764.2,329.5 763.1,329.5 764.3,329.5 764.3,339.8 764.4,339.8 764.4,345.4 765.0,345.4 765.0,339.8 765.1,339.8 765.1,345.1 765.8,345.1 765.8,350.0 766.2,350.0 766.5,350.0 766.5,342.2 767.2,342.2 767.2,350.0 766.5,350.0 766.5,359.5 766.7,359.5 766.7,354.6 767.9,354.6 767.9,359.5 767.4,359.5 767.4,373.2 768.1,373.2 768.1,369.1 768.0,369.1 768.0,378.6 768.6,378.6 769.0,378.6 769.0,388.5 770.0,388.5 770.0,391.5 770.7,391.5 770.7,398.3 770.4,398.3 770.4,393.6 771.0,393.6 771.0,398.3 770.9,398.3 770.9,408.1 771.6,408.1 771.6,415.2 772.5,415.2 772.5,408.1 772.2,408.1 772.2,412.2 772.9,412.2 772.9,418.0 772.6,418.0 772.9,418.0 772.9,410.2 773.6,410.2 773.6,418.0 773.0,418.0 773.0,431.7 773.7,431.7 773.7,427.8 774.0,427.8 774.0,443.2 774.7,443.2 774.7,437.7 774.7,437.7 774.7,447.5 775.5,447.5 776.0,447.5 776.0,455.4 776.5,455.4 776.5,463.2 777.7,463.2 777.7,455.4 777.2,455.4 777.2,448.7 778.4,448.7 778.4,455.4 777.3,455.4 777.3,458.1 778.0,458.1 778.0,463.2 778.5,463.2 779.1,463.2 779.1,465.2 779.8,465.2 779.8,471.1 780.0,471.1 780.0,474.7 780.7,474.7 780.7,478.9 780.0,478.9 780.0,472.1 781.1,472.1 781.1,478.9 780.1,478.9 780.1,472.3 780.6,472.3 780.6,478.9 781.0,478.9 781.0,486.8 781.4,486.8 783.2,486.8 783.2,481.0 783.9,481.0 783.9,484.8 784.1,484.8 784.1,479.9 785.4,479.9 785.4,484.8 784.4,484.8 784.9,484.8 784.9,488.3 785.7,488.3 785.7,484.8 786.0,484.8 786.0,486.8 786.1,486.8 786.1,478.5 786.6,478.5 786.6,486.8 787.3,486.8 787.5,486.8 787.5,492.4 788.7,492.4 788.7,486.8 787.9,486.8 787.9,483.5 788.6,483.5 788.6,478.9 788.6,478.9 788.6,471.0 789.3,471.0 789.8,471.0 789.8,455.4 790.5,455.4 790.5,460.2 790.6,460.2 790.6,447.9 791.3,447.9 791.3,449.4 790.6,449.4 790.6,456.5 791.8,456.5 791.8,449.4 791.3,449.4 791.4,449.4 791.4,447.9 792.7,447.9 792.7,449.4 791.5,449.4 791.5,458.6 792.1,458.6 792.1,467.8 792.5,467.8 792.5,477.0 792.6,477.0 792.9,477.0 792.9,486.2 793.2,486.2 793.2,494.4 793.8,494.4 793.8,486.2 793.7,486.2 793.7,501.8 794.4,501.8 794.4,495.5 794.3,495.5 794.4,495.5 794.4,498.1 795.1,498.1 795.1,504.1 794.9,504.1 794.9,512.8 795.1,512.8 795.1,521.4 795.4,521.4 795.4,517.7 796.4,517.7 796.4,521.4 795.7,521.4 795.7,530.0 795.8,530.0 795.8,530.0 795.8,533.8 796.8,533.8 796.8,530.0 796.0,530.0 796.0,537.3 796.7,537.3 796.7,540.3 796.4,540.3 796.4,550.6 796.6,550.6 798.0,550.6 798.0,547.4 798.3,547.4 798.3,540.5 799.1,540.5 799.1,547.4 799.0,547.4 799.0,553.8 799.9,553.8 799.9,547.4 799.0,547.4 799.2,547.4 799.2,560.8 799.9,560.8 799.9,554.7 799.4,554.7 799.4,555.9 800.1,555.9 800.1,562.0 799.6,562.0 799.7,562.0 799.7,567.2 800.4,567.2 800.4,571.3 799.9,571.3 799.9,580.7 800.2,580.7 800.2,590.0 800.4,590.0 800.4,604.7 801.1,604.7 801.1,599.3 800.5,599.3 800.7,599.3 800.7,606.9 801.9,606.9 801.9,599.3 800.8,599.3 800.8,609.2 801.4,609.2 801.4,619.0 801.7,619.0 801.7,628.8 802.3,628.8 802.3,631.9 803.0,631.9 803.0,638.7 802.5,638.7 803.2,638.7 803.2,634.9 804.2,634.9 804.2,638.7 804.3,638.7 804.3,634.6 804.8,634.6 804.8,638.7 804.7,638.7 804.7,645.4 805.2,645.4 805.2,638.7 805.9,638.7 805.9,642.6 808.4,642.6 809.4,642.6 809.4,653.3 810.1,653.3 810.1,646.6 810.0,646.6 810.0,652.2 811.2,652.2 811.2,646.6 811.3,646.6 811.3,655.3 811.9,655.3 811.9,646.6 811.3,646.6 811.4,646.6 811.4,650.5 812.5,650.5 812.5,646.6 811.5,646.6 811.5,651.1 812.2,651.1 812.2,654.5 811.7,654.5 811.7,662.3 812.1,662.3 812.1,673.7 812.8,673.7 812.8,670.2 812.3,670.2 813.1,670.2 813.1,672.2 813.8,672.2 813.8,679.0 813.1,679.0 813.1,685.2 813.8,685.2 813.8,679.0 813.8,679.0 813.8,681.2 814.5,681.2 814.5,687.9 814.3,687.9 814.8,687.9 814.8,699.1 815.5,699.1 815.5,694.8 815.7,694.8 815.7,701.6 815.7,701.6 815.7,696.8 816.9,696.8 816.9,701.6 816.2,701.6 816.4,701.6 816.4,706.8 817.1,706.8 817.1,710.0 816.9,710.0 816.9,718.4 817.5,718.4 817.5,723.2 818.1,723.2 818.1,718.4 817.8,718.4 817.8,726.7 818.2,726.7 818.2,735.1 819.0,735.1 819.0,743.5 819.0,743.5 819.0,745.0 820.0,745.0 820.0,743.5 819.2,743.5 819.5,743.5 819.5,734.2 819.9,734.2 819.9,725.0 820.4,725.0 820.4,715.7 820.5,715.7 820.5,722.5 821.8,722.5 821.8,715.7 820.5,715.7 820.5,723.5 821.5,723.5 821.5,715.7 821.0,715.7 821.0,706.4 821.3,706.4 821.3,697.2 821.8,697.2 821.8,693.9 822.5,693.9 822.5,687.9 822.1,687.9 822.4,687.9 822.4,681.8 823.4,681.8 823.4,687.9 822.4,687.9 822.4,681.0 822.9,681.0 822.9,674.1 823.1,674.1 824.1,674.1 824.1,666.9 824.8,666.9 824.8,670.2 825.6,670.2 825.6,666.3 826.5,666.3 826.5,670.2 826.2,670.2 826.2,664.4 827.1,664.4 827.1,670.2 827.1,670.2 827.4,670.2 827.4,678.0 828.5,678.0 828.5,681.8 829.2,681.8 829.2,685.9 828.9,685.9 828.9,680.7 829.7,680.7 829.7,685.9 829.0,685.9 829.3,685.9 829.3,676.0 829.7,676.0 829.7,666.2 830.0,666.2 831.1,666.2 831.1,656.4 832.0,656.4 832.0,646.6 832.6,646.6 832.6,650.6 833.6,650.6 833.6,646.6 832.6,646.6 832.6,653.8 833.4,653.8 833.4,646.6 833.0,646.6 833.4,646.6 833.4,638.5 833.9,638.5 833.9,646.6 834.1,646.6 834.1,637.8 835.0,637.8 835.0,628.9 835.9,628.9 836.9,628.9 836.9,619.0 837.7,619.0 837.7,609.2 838.4,609.2 838.4,604.5 839.6,604.5 839.6,609.2 838.9,609.2 839.3,609.2 839.3,604.3 840.4,604.3 840.4,609.2 839.5,609.2 839.5,604.3 840.2,604.3 840.2,599.4 840.5,599.4 840.5,589.5 840.8,589.5 841.0,589.5 841.0,597.0 842.2,597.0 842.2,589.5 841.4,589.5 841.4,574.7 842.1,574.7 842.1,580.6 842.4,580.6 842.4,588.1 843.6,588.1 843.6,580.6 843.0,580.6 843.0,566.0 843.7,566.0 843.7,571.8 843.8,571.8 844.1,571.8 844.1,569.4 844.6,569.4 845.4,569.4 845.4,561.5 845.7,561.5 845.7,554.8 846.7,554.8 846.7,561.5 845.9,561.5 845.9,566.3 846.5,566.3 846.5,561.5 847.1,561.5 847.1,560.1 847.8,560.1 847.8,553.7 847.8,553.7 849.4,553.7 849.4,564.7 849.4,564.7 849.4,560.6 850.2,560.6 850.2,564.7 850.1,564.7 851.3,564.7 851.3,569.3 852.6,569.3 852.6,564.7 852.3,564.7 852.3,558.4 852.9,558.4 852.9,566.5 853.7,566.2 853.7,558.4 853.3,558.4 853.7,558.4 853.7,566.2 855.0,566.9 855.0,558.4 854.7,558.4 854.7,550.5 855.0,550.5 855.0,559.1 855.9,559.1 855.9,550.5 856.5,550.5 856.5,542.7 857.2,542.7 857.9,542.7 857.9,549.8 858.8,549.8 858.8,556.9 858.9,556.9 858.9,551.3 859.9,551.3 859.9,556.9 859.6,556.9 859.9,556.9 859.9,560.5 860.9,560.5 860.9,556.9 860.2,556.9 860.2,566.3 862.7,566.3 862.7,571.2 863.8,571.2 863.8,566.3 862.8,566.3 862.8,572.4 863.5,572.4 863.5,575.7 863.5,575.7 864.1,575.7 864.1,560.9 864.8,560.9 864.8,567.3 864.8,567.3 864.8,559.0 865.5,559.0 865.5,550.6 865.8,550.6 865.8,543.6 866.4,543.6 866.4,550.6 865.8,550.6 866.2,550.6 866.2,544.6 866.9,544.6 866.9,540.4 868.4,540.4 868.4,546.4 869.6,546.4 869.6,540.4 868.6,540.4 868.6,534.2 869.3,534.2 869.3,530.1 868.6,530.1 868.6,537.6 869.6,537.6 869.6,530.1 869.0,530.1 869.5,530.1 869.5,519.6 869.6,519.6 869.6,511.9 870.8,511.9 870.8,519.6 870.2,519.6 870.2,504.2 870.9,504.2 870.9,509.2 870.7,509.2 870.7,498.7 871.3,498.7 871.5,498.7 871.5,488.8 872.3,488.8 872.3,483.7 873.0,483.7 873.0,479.0 872.8,479.0 872.8,487.2 873.7,487.2 873.7,479.0 873.0,479.0 873.0,463.7 873.7,463.7 873.7,469.2 873.6,469.2 873.6,459.3 873.7,459.3 874.0,459.3 874.0,451.4 874.2,451.4 874.2,458.7 875.2,458.7 875.2,451.4 874.4,451.4 874.4,443.6 875.0,443.6 875.0,430.9 875.7,430.9 875.7,435.7 875.3,435.7 875.6,435.7 875.6,430.6 876.3,430.6 876.3,424.7 876.5,424.7 876.7,424.7 876.7,429.5 877.4,429.5 877.4,433.1 877.3,433.1 877.3,441.6 877.6,441.6 877.6,453.2 878.3,453.2 878.3,450.0 878.1,450.0 878.1,458.5 878.8,458.5 878.8,466.8 879.5,466.8 879.5,458.5 878.8,458.5 878.8,466.9 878.9,466.9 878.9,458.8 879.7,458.8 879.7,466.9 879.2,466.9 879.2,470.9 879.9,470.9 879.9,475.4 879.6,475.4 879.6,483.8 880.0,483.8 880.3,483.8 880.3,475.4 881.0,475.4 881.0,483.0 881.9,483.0 881.9,475.4 881.5,475.4 881.5,470.4 882.5,470.4 882.5,475.4 881.7,475.4 881.7,467.1 882.9,467.1 882.9,475.4 882.0,475.4 882.0,472.1 882.7,472.1 882.7,467.1 883.1,467.1 883.1,458.7 884.6,458.7 884.6,450.4 885.0,450.4 885.1,450.4 885.1,444.9 886.3,448.9 886.3,450.4 885.2,450.4 885.2,446.1 886.3,448.9 886.3,450.4 885.9,450.4 885.9,459.5 887.1,459.5 887.1,468.7 887.5,468.7 887.5,461.5 888.1,461.5 888.1,468.7 887.9,468.7 887.9,477.8 889.4,477.8 889.4,487.0 890.0,487.0 890.2,487.0 890.2,495.4 890.7,495.4 890.7,490.8 891.9,490.8 891.9,495.4 891.5,495.4 891.5,503.8 892.1,503.8 892.1,512.1 892.2,512.1 892.2,508.3 893.3,508.3 893.3,512.1 893.0,512.1 893.0,520.5 893.5,520.5 893.5,528.5 894.2,528.5 894.2,520.5 894.0,520.5 894.0,528.9 894.6,528.9 894.6,537.3 895.0,537.3 895.1,537.3 895.1,528.5 895.4,528.5 895.4,533.4 896.5,533.4 896.5,528.5 895.7,528.5 895.7,519.7 896.1,519.7 896.1,515.8 896.8,515.8 896.8,510.9 896.4,510.9 896.4,506.5 897.1,506.5 897.1,502.1 896.8,502.1 896.8,493.4 897.4,493.4 897.4,484.6 897.8,484.6 897.8,475.8 898.1,475.8 898.1,472.1 898.6,472.1 898.6,475.8 898.2,475.8 898.2,471.1 898.9,471.1 898.9,467.0 898.3,467.0 898.8,467.0 898.8,477.1 900.8,477.1 900.8,470.3 901.6,470.3 901.6,477.1 901.1,477.1 901.1,487.1 902.1,487.1 902.1,497.2 902.5,497.2 902.5,493.0 903.8,493.0 903.8,497.2 902.6,497.2 902.6,503.8 903.3,503.8 903.3,497.2 903.3,497.2 903.9,497.2 903.9,507.2 904.1,507.2 904.1,499.0 904.9,499.0 904.9,507.2 904.7,507.2 904.7,517.3 905.5,517.3 905.5,522.8 906.6,522.8 906.6,517.3 905.9,517.3 905.9,527.3 906.6,527.3 907.0,527.3 907.0,531.0 907.6,531.0 907.6,527.3 907.7,527.3 907.7,537.3 909.5,537.3 909.5,547.4 910.0,547.4 910.0,538.9 910.7,538.9 910.7,547.4 910.0,547.4 910.9,547.4 910.9,537.3 911.8,537.3 911.8,527.3 912.2,527.3 912.2,533.9 912.8,533.9 912.8,527.3 912.8,527.3 912.8,519.5 913.4,519.5 913.4,527.3 913.1,527.3 913.1,517.2 913.7,517.2 913.7,523.0 915.0,523.0 915.0,517.2 914.0,517.2 914.0,507.2 915.0,507.2 915.4,507.2 915.4,498.5 915.8,498.5 915.8,503.7 917.1,503.7 917.1,498.5 916.5,498.5 916.5,489.8 917.5,489.8 917.5,481.1 918.4,481.1 918.4,472.4 919.3,472.4 919.3,467.2 920.0,467.2 920.0,463.7 919.6,463.7 919.6,456.9 920.7,456.9 920.7,463.7 919.9,463.7 919.9,468.3 921.1,468.3 921.1,463.7 920.0,463.7 921.1,463.7 921.1,454.9 921.9,454.9 921.9,458.9 922.5,458.9 922.5,454.9 922.1,454.9 922.1,449.7 923.0,449.7 923.0,454.9 922.8,454.9 922.8,446.2 923.9,446.2 923.9,437.4 924.9,437.4 924.9,442.1 925.4,442.1 925.4,437.4 926.1,437.4 926.1,431.8 927.2,431.8 927.2,437.4 926.3,437.4 926.3,428.6 926.7,428.6 927.4,428.6 927.4,433.3 928.4,433.3 928.4,428.6 927.7,428.6 927.7,439.5 928.2,439.5 928.2,445.8 929.1,445.8 929.1,439.5 929.7,439.5 929.7,446.9 930.5,446.9 930.5,439.5 930.7,439.5 930.7,445.1 931.4,445.1 931.4,450.4 931.7,450.4 932.0,450.4 932.0,454.7 932.7,454.7 932.7,459.5 932.8,459.5 932.8,464.2 933.5,464.2 933.5,468.6 933.4,468.6 933.4,473.3 934.4,473.3 934.4,468.6 933.4,468.6 933.4,481.5 934.1,481.5 934.1,477.7 933.5,477.7 933.5,474.0 934.2,474.0 934.2,477.7 934.0,477.7 934.0,485.5 935.0,485.5 935.0,477.7 934.1,477.7 934.1,486.7 934.9,486.7 934.9,500.9 935.6,500.9 935.6,495.8 935.9,495.8 935.9,501.3 936.6,501.3 936.6,504.9 936.6,504.9 936.6,514.0 936.8,514.0 937.3,514.0 937.3,497.4 938.0,497.4 938.0,503.9 938.8,503.9 938.8,500.2 939.3,500.2 939.3,503.9 938.9,503.9 938.9,493.9 941.3,493.9 941.3,483.8 941.6,483.8 941.6,476.4 942.7,476.4 942.7,483.8 941.8,483.8 941.8,477.2 942.5,477.2 942.5,483.8 941.8,483.8 942.3,483.8 942.3,475.4 942.9,475.4 942.9,467.1 943.2,467.1 943.2,458.5 944.4,458.5 944.4,467.1 944.0,467.1 944.0,452.7 944.7,452.7 944.7,458.7 944.0,458.7 944.0,465.9 944.7,465.9 944.7,458.7 944.7,458.7 944.7,451.4 945.7,451.4 945.7,458.7 944.9,458.7 944.9,454.3 945.6,454.3 945.6,450.3 945.6,450.3 945.6,442.0 946.2,442.0 946.2,437.5 946.9,437.5 946.9,433.6 946.8,433.6 949.3,433.6 949.3,429.1 950.0,429.1 950.0,433.6 950.2,433.6 950.2,420.3 950.3,420.3 950.3,418.8 951.4,418.8 951.4,420.3 951.9,420.3 951.9,418.8 953.0,418.8 953.0,420.3 952.2,420.3 952.2,418.8 953.0,418.8 953.0,420.3 952.8,420.3 952.9,420.3 952.9,423.7 953.6,423.7 953.6,429.2 953.3,429.2 953.3,424.2 953.8,424.2 953.8,429.2 953.3,429.2 953.3,438.1 953.4,438.1 953.4,444.2 954.2,444.2 954.2,438.1 953.8,438.1 953.8,447.0 954.3,447.0 954.3,460.9 955.0,460.9 955.0,455.9 954.7,455.9 954.7,464.9 955.2,464.9 955.2,473.8 955.7,473.8 955.7,482.7 956.1,482.7 956.1,491.6 956.7,491.6 956.7,500.5 956.8,500.5 957.1,500.5 957.1,495.1 957.8,495.1 957.8,491.4 957.9,491.4 957.9,477.0 958.6,477.0 958.6,482.4 958.3,482.4 958.3,478.6 959.3,478.6 959.3,482.4 958.4,482.4 958.4,475.9 959.4,475.9 959.4,482.4 958.6,482.4 958.6,473.3 959.2,473.3 959.2,464.2 959.9,464.2 959.9,460.1 960.6,460.1 960.6,455.1 960.6,455.1 960.6,446.1 961.4,446.1 961.4,440.0 962.1,440.0 962.1,437.0 961.5,437.0 961.5,429.8 962.2,429.8 962.2,437.0 961.8,437.0 961.9,437.0 961.9,441.6 962.7,441.6 962.7,437.0 963.4,437.0 963.4,433.6 964.8,433.6 964.8,429.1 965.7,429.1 965.7,433.6 965.2,433.6 965.6,433.6 965.6,425.0 966.1,425.0 966.1,416.4 966.2,416.4 966.2,420.3 967.3,420.3 967.3,416.4 966.6,416.4 966.6,412.7 967.3,412.7 967.3,407.8 967.1,407.8 967.1,403.8 967.8,403.8 967.8,399.2 967.7,399.2 967.7,403.8 968.8,403.8 968.8,399.2 967.7,399.2 967.7,387.0 968.4,387.0 968.4,390.6 968.0,390.6 968.0,382.1 968.5,382.1 968.5,390.6 968.4,390.6 968.4,382.0 968.8,382.0 968.8,373.4 969.2,373.4 969.7,373.4 969.7,381.8 970.0,381.8 970.0,390.1 970.3,390.1 970.3,395.2 971.1,395.2 971.1,390.1 970.3,390.1 970.3,382.1 971.4,382.1 971.4,390.1 970.6,390.1 970.6,398.5 971.2,398.5 971.2,393.9 971.8,393.9 971.8,398.5 971.5,398.5 971.5,406.9 972.0,406.9 972.0,415.2 972.8,415.2 972.8,423.6 972.9,423.6 973.2,423.6 973.2,433.1 973.4,433.1 973.4,425.0 974.1,425.0 974.1,433.1 973.7,433.1 973.7,442.6 974.7,442.6 974.7,447.8 975.4,447.8 975.4,452.0 975.3,452.0 975.3,461.5 975.4,461.5 975.4,457.2 976.4,457.2 976.4,461.5 975.9,461.5 975.9,471.0 976.7,471.0 976.7,480.5 976.9,480.5 977.2,480.5 977.2,490.5 977.4,490.5 977.4,494.6 978.0,494.6 978.0,490.5 978.0,490.5 978.0,500.5 978.2,500.5 978.2,492.3 979.3,492.3 979.3,500.5 979.0,500.5 979.0,510.6 979.7,510.6 979.7,517.1 980.4,517.1 980.4,520.6 980.2,520.6 981.1,520.6 981.1,528.4 981.7,528.4 981.7,536.2 982.8,536.2 982.8,544.0 982.8,544.0 982.8,552.5 983.8,552.5 983.8,544.0 982.9,544.0 982.9,552.0 984.0,552.0 984.0,544.0 983.6,544.0 983.7,544.0 983.7,549.6 984.3,549.6 984.3,544.0 984.0,544.0 984.0,549.2 984.7,549.2 984.7,544.0 984.1,544.0 984.1,555.5 984.8,555.5 984.8,552.4 987.8,552.4 987.8,557.8 988.4,557.8 988.4,552.4 988.0,552.4 988.0,560.7 988.6,560.7 989.1,560.7 989.1,570.8 989.8,570.8 989.8,580.8 990.4,580.8 990.4,575.1 991.2,575.1 991.2,580.8 990.5,580.8 990.5,575.2 991.1,575.2 991.1,580.8 990.8,580.8 990.8,590.8 991.6,590.8 991.6,600.9 992.0,600.9 992.2,600.9 992.2,596.8 993.1,596.8 993.1,600.9 992.8,600.9 992.8,610.9 993.3,610.9 993.3,605.6 994.4,605.6 994.4,610.9 993.4,610.9 993.4,625.5 994.1,625.5 994.1,621.0 994.7,621.0 994.7,631.0 995.2,631.0 995.2,625.1 996.4,625.1 996.4,631.0 995.9,631.0 995.9,641.0 996.3,641.0 996.5,641.0 996.5,649.4 997.0,649.4 997.0,657.7 997.6,657.7 997.6,666.0 998.2,666.0 998.2,670.4 999.0,670.4 999.0,666.0 998.3,666.0 998.3,669.7 999.0,669.7 999.0,674.4 998.5,674.4 998.5,667.8 999.1,667.8 999.1,674.4 998.6,674.4 999.2,674.4 999.2,678.0 999.9,678.0 999.9,683.7 1000.1,683.7 1000.1,678.8 1001.0,678.8 1001.0,683.7 1000.3,683.7 1000.9,683.7 1000.9,692.9 1001.1,692.9 1001.1,697.0 1002.1,697.0 1002.1,692.9 1001.4,692.9 1001.4,695.6 1002.1,695.6 1002.1,702.1 1001.7,702.1 1001.7,709.8 1002.4,709.8 1002.4,702.1 1002.1,702.1 1002.1,711.3 1003.4,711.3 1003.4,715.0 1004.1,715.0 1004.1,720.5 1003.6,720.5 1003.9,720.5 1003.9,714.9 1004.8,714.9 1004.8,720.5 1005.5,720.5 1005.5,722.0 1006.2,722.0 1006.2,720.5 1006.3,720.5 1006.3,722.0 1007.6,722.0 1007.6,720.5 1007.5,720.5 1007.5,722.0 1008.1,722.0 1008.1,720.5 1007.8,720.5 1007.8,717.0 1010.3,717.0 1011.0,717.0 1011.0,711.8 1011.7,711.8 1011.7,707.0 1012.9,707.0 1012.9,712.5 1013.5,712.5 1013.5,707.0 1013.5,707.0 1013.5,705.5 1014.2,705.5 1014.2,707.0 1013.7,707.0 1013.8,707.0 1013.8,715.6 1014.1,715.6 1014.1,708.8 1015.2,708.8 1015.2,715.6 1014.3,715.6 1014.3,729.2 1015.0,729.2 1015.0,724.2 1014.9,724.2 1014.9,732.8 1015.3,732.8 1015.3,741.5 1015.8,741.5 1015.8,750.1 1016.3,750.1 1016.3,762.3 1017.0,762.3 1017.0,758.7 1016.7,758.7 1016.7,751.8 1017.8,751.8 1017.8,758.7 1016.7,758.7 1016.7,767.3 1017.0,767.3 1017.2,767.3 1017.2,752.5 1017.9,752.5 1017.9,757.8 1018.4,757.8 1018.4,748.3 1018.5,748.3 1018.5,742.3 1019.7,742.3 1019.7,748.3 1019.3,748.3 1019.3,738.9 1020.1,738.9 1020.1,729.4 1020.4,729.4 1020.4,733.0 1021.4,733.0 1021.4,729.4 1020.9,729.4 1020.9,715.9 1021.6,715.9 1021.6,719.9 1021.3,719.9 1021.3,710.4 1021.6,710.4 1021.6,718.7 1022.4,718.7 1022.4,710.4 1022.0,710.4 1022.4,710.4 1022.4,725.4 1023.1,725.4 1023.1,719.3 1022.6,719.3 1022.6,726.5 1023.6,726.5 1023.6,719.3 1022.9,719.3 1022.9,713.0 1024.1,713.0 1024.1,719.3 1023.5,719.3 1023.5,728.1 1024.2,728.1 1024.2,737.0 1024.7,737.0 1025.0,737.0 1025.0,744.5 1025.8,744.5 1025.8,737.0 1025.6,737.0 1025.6,728.0 1026.5,728.0 1026.5,719.0 1026.8,719.0 1026.8,712.3 1027.9,712.3 1027.9,719.0 1027.3,719.0 1027.3,710.0 1028.0,710.0 1028.6,710.0 1028.6,695.8 1029.3,695.8 1029.3,701.7 1029.5,701.7 1029.5,693.5 1029.6,693.5 1029.6,688.8 1030.6,688.8 1030.6,693.5 1029.7,693.5 1029.7,688.2 1030.7,688.2 1030.7,693.5 1030.2,693.5 1030.2,679.7 1030.9,679.7 1030.9,685.2 1031.1,685.2 1031.1,682.8 1031.8,682.8 1031.8,677.0 1031.4,677.0 1031.5,677.0 1031.5,668.5 1032.3,668.5 1032.3,659.9 1032.9,659.9 1032.9,651.4 1033.7,651.4 1033.7,642.8 1033.9,642.8 1033.9,637.6 1034.4,637.6 1034.4,642.8 1034.2,642.8 1034.2,634.3 1034.4,634.3 1034.4,626.9 1035.7,626.9 1035.7,634.3 1034.7,634.3 1035.6,634.3 1035.6,638.9 1036.3,638.9 1036.3,634.3 1036.6,634.3 1036.6,627.4 1037.3,627.4 1037.3,634.3 1037.1,634.3 1037.1,621.0 1037.5,621.0 1037.5,613.5 1038.5,613.5 1038.5,621.0 1039.7,621.0 1040.1,621.0 1040.1,614.2 1041.2,614.2 1041.2,621.0 1040.4,621.0 1040.4,604.7 1041.1,604.7 1041.1,610.9 1041.2,610.9 1041.2,602.6 1042.5,602.6 1042.5,610.9 1041.3,610.9 1041.3,606.9 1042.3,606.9 1042.3,610.9 1042.6,610.9 1042.6,594.8 1043.3,594.8 1043.3,600.9 1043.9,600.9 1043.9,590.8 1044.7,590.8 1046.6,590.8 1046.6,580.8 1047.9,580.8 1047.9,575.5 1049.0,575.5 1049.0,580.8 1048.4,580.8 1048.4,588.8 1049.6,588.8 1049.6,580.8 1049.4,580.8 1049.4,575.3 1050.6,575.3 1050.6,580.8 1049.8,580.8 1051.0,580.8 1051.0,574.3 1052.1,574.3 1052.1,580.8 1051.6,580.8 1051.6,572.3 1052.3,572.3 1052.3,567.4 1052.6,567.4 1052.6,572.8 1053.2,572.8 1053.2,567.4 1052.8,567.4 1052.8,574.2 1053.4,574.2 1053.4,567.4 1054.8,567.4 1055.4,567.4 1055.4,576.6 1055.6,576.6 1055.6,568.7 1056.2,568.7 1056.2,576.6 1056.0,576.6 1056.0,572.7 1056.7,572.7 1056.7,576.6 1056.2,576.6 1056.2,585.8 1056.9,585.8 1056.9,600.2 1057.6,600.2 1057.6,595.0 1057.5,595.0 1057.5,598.1 1058.2,598.1 1058.2,604.2 1058.0,604.2 1059.0,604.2 1059.0,588.7 1059.7,588.7 1059.7,594.1 1060.5,594.1 1060.5,584.0 1061.0,584.0 1061.0,591.4 1061.8,591.4 1061.8,584.0 1061.3,584.0 1061.3,590.6 1062.2,590.6 1062.2,584.0 1061.5,584.0 1062.2,584.0 1062.2,590.8 1063.0,590.8 1063.0,583.5 1064.1,583.5 1064.1,590.8 1064.0,590.8 1064.0,583.0 1065.2,583.0 1065.2,590.8 1064.1,590.8 1064.1,604.3 1064.8,604.3 1064.8,597.5 1064.8,597.5 1065.0,597.5 1065.0,589.1 1065.2,589.1 1065.2,596.8 1066.4,596.8 1066.4,589.1 1065.7,589.1 1065.7,580.8 1066.1,580.8 1066.1,566.0 1066.8,566.0 1066.8,572.4 1066.8,572.4 1066.8,564.1 1066.9,564.1 1066.9,556.4 1068.2,556.4 1068.2,564.1 1067.2,564.1 1067.2,555.7 1068.0,555.7 1068.0,543.5 1068.7,543.5 1068.7,547.4 1068.2,547.4 1068.4,547.4 1068.4,532.9 1069.1,532.9 1069.1,537.9 1068.9,537.9 1068.9,521.6 1069.6,521.6 1069.6,528.4 1068.9,528.4 1068.9,536.2 1070.0,536.2 1070.0,528.4 1069.5,528.4 1069.5,525.7 1070.2,525.7 1070.2,518.9 1069.5,518.9 1069.5,512.4 1070.5,512.4 1070.5,518.9 1070.2,518.9 1070.2,512.6 1070.9,512.6 1070.9,509.5 1070.8,509.5 1070.8,493.6 1071.5,493.6 1071.5,500.0 1071.3,500.0 1071.3,490.5 1071.5,490.5 1071.7,490.5 1071.7,481.7 1071.7,481.7 1071.7,488.6 1072.9,488.6 1072.9,481.7 1072.7,481.7 1072.7,485.7 1073.2,485.7 1073.2,481.7 1072.8,481.7 1072.8,472.9 1073.5,472.9 1073.5,464.2 1074.6,464.2 1074.6,455.4 1074.8,455.4 1075.6,455.4 1075.6,464.6 1075.9,464.6 1075.9,471.6 1076.8,471.6 1076.8,464.6 1077.1,464.6 1077.1,469.6 1077.6,469.6 1077.6,464.6 1077.6,464.6 1077.6,473.8 1078.2,473.8 1078.7,473.8 1078.7,483.2 1079.2,483.2 1079.2,490.1 1079.9,490.1 1079.9,483.2 1079.3,483.2 1079.3,475.6 1079.9,475.6 1079.9,483.2 1079.3,483.2 1079.3,492.5 1079.7,492.5 1079.7,498.7 1080.4,498.7 1080.4,501.9 1080.4,501.9 1080.4,516.5 1081.1,516.5 1081.1,511.2 1081.1,511.2 1081.1,522.1 1081.8,522.1 1081.8,520.6 1081.5,520.6 1081.8,520.6 1081.8,507.1 1082.5,507.1 1082.5,510.6 1081.8,510.6 1081.8,516.5 1082.7,516.5 1082.7,510.6 1082.5,510.6 1082.5,506.5 1083.0,506.5 1083.0,510.6 1083.0,510.6 1083.0,506.8 1083.7,506.8 1083.7,500.6 1083.8,500.6 1083.8,490.5 1084.3,490.5 1084.3,480.5 1084.9,480.5 1085.7,480.5 1085.7,473.8 1086.1,473.8 1086.1,481.3 1086.8,481.3 1086.8,473.8 1087.8,473.8 1087.8,462.6 1088.5,462.6 1088.5,467.0 1088.2,467.0 1088.2,475.0 1089.2,475.0 1089.2,467.0 1088.2,467.0 1088.7,467.0 1088.7,452.4 1089.4,452.4 1089.4,457.9 1089.0,457.9 1089.0,449.6 1089.6,449.6 1089.6,457.9 1090.4,457.9 1090.4,465.8 1090.9,465.8 1090.9,457.9 1090.8,457.9 1090.8,447.2 1091.5,447.2 1091.5,448.7 1091.6,448.7 1091.8,448.7 1091.8,458.5 1092.3,458.5 1092.3,468.2 1092.8,468.2 1092.8,462.3 1093.7,462.3 1093.7,468.2 1093.0,468.2 1093.0,478.0 1093.5,478.0 1093.5,471.3 1094.3,471.3 1094.3,478.0 1093.6,478.0 1093.6,487.7 1094.2,487.7 1094.2,502.0 1094.9,502.0 1094.9,497.5 1094.5,497.5 1094.5,510.3 1095.2,510.3 1095.2,507.2 1094.9,507.2 1095.4,507.2 1095.4,497.2 1095.9,497.2 1095.9,487.1 1097.1,487.1 1097.1,480.7 1097.8,480.7 1097.8,477.1 1098.1,477.1 1098.1,461.5 1098.8,461.5 1098.8,467.0 1098.2,467.0 1098.2,475.4 1099.3,475.4 1099.3,467.0 1098.2,467.0 1098.2,462.2 1099.5,462.2 1099.5,467.0 1098.3,467.0 1098.6,467.0 1098.6,476.1 1099.9,476.1 1099.9,485.2 1100.4,485.2 1100.4,489.3 1101.1,489.3 1101.1,494.3 1101.5,494.3 1101.5,497.9 1102.2,497.9 1102.2,503.3 1102.4,503.3 1102.4,509.3 1103.7,509.3 1103.7,503.3 1102.5,503.3 1102.5,512.4 1102.6,512.4 1102.6,520.3 1103.8,520.3 1103.8,512.4 1103.4,512.4 1103.4,521.5 1103.5,521.5 1103.5,530.1 1104.6,530.1 1104.6,521.5 1103.6,521.5 1103.6,517.8 1104.2,517.8 1104.2,521.5 1104.7,521.5 1104.7,530.6 1105.0,530.6 1105.3,530.6 1105.3,520.6 1106.5,520.6 1106.5,526.9 1107.2,526.9 1107.2,520.6 1107.2,520.6 1107.2,510.5 1107.7,510.5 1107.7,506.3 1109.0,506.3 1109.0,510.5 1108.9,510.5 1108.9,500.5 1109.2,500.5 1109.2,508.3 1110.4,508.3 1110.4,500.5 1110.0,500.5 1110.5,500.5 1110.5,508.3 1111.4,508.3 1111.4,516.4 1112.1,516.4 1112.1,508.3 1112.0,508.3 1112.0,499.8 1112.6,499.8 1112.6,508.3 1112.8,508.3 1112.8,516.2 1113.3,516.2 1113.3,524.7 1114.4,524.7 1114.4,516.2 1113.8,516.2 1113.8,520.5 1114.5,520.5 1114.5,524.0 1115.0,524.0 1115.6,524.0 1115.6,520.2 1116.3,520.2 1116.3,514.6 1115.8,514.6 1115.8,508.2 1116.5,508.2 1116.5,514.6 1116.4,514.6 1116.4,505.2 1117.1,505.2 1117.1,501.4 1117.9,501.4 1117.9,505.2 1117.7,505.2 1117.7,495.8 1118.7,495.8 1118.7,486.4 1119.4,486.4 1119.4,475.5 1120.1,475.5 1120.1,477.0 1119.7,477.0 1119.7,475.5 1121.0,475.5 1121.0,477.0 1120.0,477.0 1121.2,477.0 1121.2,487.0 1123.3,487.0 1123.3,495.3 1124.5,495.3 1124.5,487.0 1123.4,487.0 1123.4,492.0 1124.7,492.0 1124.7,487.0 1123.7,487.0 1123.7,492.8 1124.4,492.8 1124.4,487.0 1125.0,487.0 1125.7,487.0 1125.7,502.2 1126.4,502.2 1126.4,497.1 1126.9,497.1 1126.9,492.4 1128.0,492.4 1128.0,497.1 1127.0,497.1 1127.0,507.1 1127.4,507.1 1127.4,510.7 1128.4,510.7 1128.4,507.1 1127.8,507.1 1127.8,521.1 1128.5,521.1 1128.5,517.2 1129.3,517.2 1129.3,527.3 1130.0,527.3 1130.3,527.3 1130.3,531.6 1131.1,531.6 1131.1,527.3 1130.8,527.3 1130.8,537.3 1132.0,537.3 1132.0,547.4 1133.7,547.4 1133.7,541.4 1134.5,541.4 1134.5,547.4 1133.8,547.4 1133.8,553.1 1134.5,553.1 1134.5,557.4 1134.3,557.4 1134.3,549.5 1134.9,549.5 1134.9,557.4 1135.0,557.4 1135.0,557.4 1135.0,549.2 1135.8,549.2 1135.8,557.4 1136.0,557.4 1136.0,567.4 1137.9,567.4 1137.9,573.0 1138.6,573.0 1138.6,577.5 1138.0,577.5 1138.0,573.3 1138.7,573.3 1138.7,577.5 1139.1,577.5 1139.1,570.2 1139.6,570.2 1139.6,577.5 1139.1,577.5 1139.1,582.6 1139.8,582.6 1139.8,587.5 1140.0,587.5 1140.3,587.5 1140.3,596.7 1141.2,596.7 1141.2,605.9 1141.7,605.9 1141.7,599.3 1142.3,599.3 1142.3,605.9 1142.4,605.9 1142.4,615.1 1143.0,615.1 1143.0,620.6 1143.7,620.6 1143.7,624.3 1143.4,624.3 1143.4,617.1 1144.7,617.1 1144.7,624.3 1143.4,624.3 1143.8,624.3 1143.8,612.6 1144.5,612.6 1144.5,615.9 1145.5,615.9 1145.5,612.8 1146.2,612.8 1146.2,607.5 1145.6,607.5 1145.6,612.5 1146.2,612.5 1146.2,607.5 1145.8,607.5 1145.8,599.8 1146.9,599.8 1146.9,607.5 1146.7,607.5 1146.7,604.9 1147.4,604.9 1147.4,599.2 1147.5,599.2 1147.5,590.8 1148.2,590.8 1148.2,597.2 1149.2,597.2 1149.2,590.8 1148.4,590.8 1149.2,590.8 1149.2,589.3 1149.9,589.3 1149.9,590.8 1149.6,590.8 1149.6,599.7 1150.2,599.7 1150.2,606.4 1151.1,606.4 1151.1,599.7 1151.3,599.7 1151.3,614.2 1152.0,614.2 1152.0,608.7 1152.2,608.7 1152.2,616.4 1152.8,616.4 1152.8,608.7 1152.2,608.7 1152.2,617.6 1153.4,617.6 1153.6,617.6 1153.6,611.2 1154.7,611.2 1154.7,617.6 1153.9,617.6 1153.9,631.1 1154.6,631.1 1154.6,626.8 1154.8,626.8 1154.8,636.0 1155.4,636.0 1155.4,645.2 1156.5,645.2 1156.5,654.4 1156.7,654.4 1156.7,647.2 1157.8,647.2 1157.8,654.4 1156.8,654.4 1157.9,654.4 1157.9,650.0 1159.0,650.0 1159.0,654.4 1158.1,654.4 1158.1,641.0 1159.8,641.0 1159.8,636.1 1160.9,636.1 1160.9,641.0 1160.0,641.0 1161.4,641.0 1161.4,625.6 1162.1,625.6 1162.1,631.0 1161.9,631.0 1161.9,624.1 1162.5,624.1 1162.5,631.0 1162.2,631.0 1162.2,635.3 1163.3,635.3 1163.3,631.0 1162.5,631.0 1162.5,621.0 1163.5,621.0 1164.3,621.0 1164.3,627.8 1164.9,627.8 1164.9,621.0 1165.2,621.0 1165.2,612.6 1165.4,612.6 1165.4,608.5 1166.1,608.5 1166.1,612.6 1167.0,612.6 1167.0,604.3 1167.9,604.3 1167.9,612.6 1167.0,612.6 1167.0,604.2 1168.5,604.2 1169.8,604.2 1169.8,612.4 1171.0,612.4 1171.0,604.2 1170.1,604.2 1170.1,594.2 1171.7,594.2 1171.7,601.8 1172.5,601.8 1172.5,594.2 1171.8,594.2 1171.8,602.2 1173.0,602.2 1173.0,594.2 1173.5,594.2 1173.9,594.2 1173.9,591.8 1174.6,591.8 1174.6,585.5 1174.0,585.5 1174.0,579.6 1174.8,579.6 1174.8,585.5 1174.9,585.5 1174.9,576.8 1175.8,576.8 1175.8,568.1 1176.1,568.1 1176.1,564.0 1177.0,564.0 1177.0,568.1 1176.6,568.1 1176.6,555.6 1177.3,555.6 1177.3,559.4 1177.4,559.4 1177.4,550.7 1177.8,550.7 1178.6,550.7 1178.6,560.7 1179.7,560.7 1179.7,554.5 1180.9,554.5 1180.9,560.7 1179.8,560.7 1179.8,570.8 1179.9,570.8 1179.9,575.1 1181.1,575.1 1181.1,570.8 1181.1,570.8 1181.1,577.7 1181.8,577.7 1181.8,580.8 1181.9,580.8 1183.1,580.8 1183.1,589.7 1183.9,589.7 1183.9,584.6 1184.4,584.6 1184.4,589.7 1184.1,589.7 1184.1,604.0 1184.8,604.0 1184.8,598.7 1186.2,598.7 1186.2,607.6 1186.8,607.6 1186.8,615.9 1187.8,615.9 1187.8,607.6 1186.9,607.6 1187.6,607.6 1187.6,616.8 1189.1,616.8 1189.1,626.0 1189.1,626.0 1189.1,621.4 1189.7,621.4 1189.7,626.0 1189.2,626.0 1189.2,619.3 1190.4,619.3 1190.4,626.0 1190.2,626.0 1190.5,626.0 1190.5,623.9 1191.2,623.9 1191.2,617.2 1190.6,617.2 1190.6,620.8 1191.9,620.8 1191.9,617.2 1191.7,617.2 1191.7,622.8 1192.9,622.8 1192.9,617.2 1192.2,617.2 1192.2,609.8 1193.1,609.8 1193.1,617.2 1192.4,617.2 1192.4,608.4 1193.1,608.4 1193.1,604.7 1193.8,604.7 1193.8,599.6 1194.2,599.6 1194.2,590.8 1195.2,590.8 1196.3,590.8 1196.3,595.6 1197.4,595.6 1197.4,590.8 1198.9,590.8 1198.9,594.4 1199.6,594.4 1199.6,590.8 1198.9,590.8 1198.9,589.3 1199.8,589.3 1199.8,590.8 1199.9,590.8 1199.9,589.3 1200.4,589.3 1200.4,590.8 1200.3,590.8 1200.3,590.8 1200.3,589.3 1201.0,589.3 1201.0,590.8 1200.4,590.8 1200.4,598.7 1201.4,598.7 1201.4,590.8 1200.7,590.8 1200.7,603.4 1201.4,603.4 1201.4,599.2 1201.2,599.2 1201.2,604.5 1201.9,604.5 1201.9,599.2 1201.7,599.2 1201.7,607.5 1202.6,607.5 1202.6,615.9 1203.2,615.9 1203.2,624.3 1203.9,624.3 1203.9,632.6 1204.7,632.6 1204.7,641.0 1205.3,641.0 1206.2,641.0 1206.2,649.4 1207.5,649.4 1207.5,661.1 1208.2,661.1 1208.2,657.7 1207.7,657.7 1207.7,651.6 1208.4,651.6 1208.4,657.7 1208.5,657.7 1208.5,662.2 1209.2,662.2 1209.2,666.1 1208.8,666.1 1208.8,661.3 1210.1,661.3 1210.1,666.1 1209.3,666.1 1209.3,674.4 1209.8,674.4 1209.8,675.9 1210.9,675.9 1210.9,674.4 1210.3,674.4 1210.5,674.4 1210.5,667.1 1211.3,667.1 1211.3,674.4 1211.2,674.4 1211.2,667.8 1211.9,667.8 1211.9,664.4 1212.3,664.4 1212.3,654.4 1213.6,654.4 1213.6,650.3 1214.3,650.3 1214.3,654.4 1213.6,654.4 1214.1,654.4 1214.1,646.0 1214.6,646.0 1214.6,637.7 1215.2,637.7 1215.2,629.3 1215.6,629.3 1215.6,624.5 1216.9,624.5 1216.9,629.3 1216.2,629.3 1216.2,617.8 1216.9,617.8 1216.9,621.0 1216.6,621.0 1216.6,608.4 1217.3,608.4 1217.3,612.6 1217.5,612.6 1217.5,604.3 1218.1,604.3 1218.1,612.6 1217.7,612.6 1217.7,607.8 1218.4,607.8 1218.4,604.3 1218.1,604.3 1218.1,598.9 1218.8,598.9 1218.8,604.3 1218.2,604.3 1218.2,599.5 1218.9,599.5 1218.9,595.9 1218.6,595.9 1220.0,595.9 1220.0,594.4 1221.2,594.4 1221.2,595.9 1220.4,595.9 1220.4,599.5 1221.2,599.5 1221.2,595.9 1220.6,595.9 1220.6,607.6 1222.0,607.6 1222.3,607.6 1222.3,611.9 1223.4,611.9 1223.4,607.6 1222.5,607.6 1222.5,614.8 1223.3,614.8 1223.3,607.6 1222.7,607.6 1222.7,617.6 1223.5,617.6 1223.5,621.2 1224.3,621.2 1224.3,617.6 1224.0,617.6 1224.0,627.6 1225.2,627.6 1225.2,637.7 1226.7,637.7 1226.7,647.7 1227.0,647.7 1229.1,647.7 1229.1,637.7 1229.9,637.7 1229.9,629.3 1230.4,629.3 1230.4,637.7 1231.1,637.7 1231.1,633.8 1232.3,633.8 1232.3,637.7 1231.6,637.7 1231.6,632.4 1232.3,632.4 1232.3,637.7 1232.0,637.7 1232.4,637.7 1232.4,645.5 1233.2,645.5 1233.2,637.5 1234.4,637.5 1234.4,645.5 1233.7,645.5 1233.7,638.5 1234.7,638.5 1234.7,645.5 1234.3,645.5 1234.3,653.2 1235.8,653.2 1235.8,660.2 1236.5,660.2 1236.5,653.2 1236.1,653.2 1236.1,661.0 1237.0,661.0 1237.6,661.0 1237.6,651.8 1238.1,651.8 1238.1,646.4 1238.8,646.4 1238.8,642.7 1238.3,642.7 1238.3,649.0 1238.9,649.0 1238.9,642.7 1238.9,642.7 1238.9,633.5 1239.2,633.5 1239.2,627.2 1240.3,627.2 1240.3,633.5 1239.9,633.5 1239.9,624.3 1240.4,624.3 1241.7,624.3 1241.7,620.8 1242.3,620.8 1242.3,624.3 1244.1,624.3 1244.1,634.3 1244.5,634.3 1244.5,625.9 1245.8,625.9 1245.8,634.3 1245.3,634.3 1245.3,642.2 1246.3,635.8 1246.3,634.3 1245.4,634.3 1245.5,634.3 1245.5,624.9 1246.4,624.9 1246.4,615.6 1247.1,615.6 1247.1,622.1 1247.8,622.1 1247.8,615.6 1247.3,615.6 1247.3,612.6 1248.0,612.6 1248.0,606.2 1247.9,606.2 1247.9,596.9 1248.3,596.9 1248.3,604.3 1249.1,604.3 1249.1,596.9 1248.5,596.9 1248.5,587.5 1248.8,587.5 1249.9,587.5 1249.9,595.2 1251.0,595.2 1251.0,587.5 1250.2,587.5 1250.2,595.8 1252.8,595.8 1252.8,604.2 1253.3,604.2 1253.3,597.7 1254.5,597.7 1254.5,604.2 1253.4,604.2 1253.4,608.5 1254.0,608.5 1254.0,604.2 1253.8,604.2 1254.5,604.2 1254.5,596.4 1254.7,596.4 1254.7,604.7 1255.7,604.7 1255.7,596.4 1254.7,596.4 1254.7,590.7 1255.3,590.7 1255.3,596.4 1256.0,596.4 1256.0,588.6 1256.0,588.6 1256.0,596.4 1256.8,596.4 1256.8,588.6 1257.8,588.6 1257.8,580.8 1258.8,580.8 1260.1,580.8 1260.1,573.1 1260.7,573.1 1260.7,580.8 1260.8,580.8 1260.8,585.9 1261.9,585.9 1261.9,580.8 1261.3,580.8 1261.3,570.8 1262.0,570.8 1262.8,570.8 1262.8,576.2 1263.4,576.2 1263.4,570.8 1263.0,570.8 1263.0,561.6 1265.2,561.6 1265.2,555.2 1266.2,555.2 1266.2,561.6 1265.9,561.6 1265.9,552.4 1265.9,552.4 1265.9,559.5 1267.0,559.5 1267.0,552.4 1266.5,552.4 1267.6,552.4 1267.6,558.9 1268.5,558.9 1268.5,552.4 1267.9,552.4 1267.9,556.5 1268.6,556.5 1268.6,561.6 1268.5,561.6 1268.5,568.8 1269.6,568.8 1269.6,561.6 1269.6,561.6 1269.6,555.6 1270.4,555.6 1270.4,561.6 1270.0,561.6 1270.0,570.8 1270.5,570.8 1270.7,570.8 1270.7,574.9 1272.0,574.9 1272.0,570.8 1270.9,570.8 1270.9,578.6 1271.7,578.6 1271.7,571.3 1273.0,571.3 1273.0,578.6 1273.3,578.6 1273.3,586.4 1274.1,586.4 1274.1,581.6 1274.7,581.6 1274.7,586.4 1274.2,586.4 1274.2,598.7 1274.9,598.7 1274.9,594.2 1275.5,594.2 1276.0,594.2 1276.0,602.6 1276.4,602.6 1276.4,610.8 1277.6,610.8 1277.6,602.6 1276.6,602.6 1276.6,609.7 1277.8,609.7 1277.8,602.6 1276.8,602.6 1276.8,610.9 1277.8,610.9 1277.8,619.2 1278.5,619.2 1278.5,627.6 1278.9,627.6 1279.7,627.6 1279.7,617.6 1280.7,617.6 1280.7,609.8 1281.6,609.8 1281.6,617.6 1282.6,617.6 1282.6,607.6 1283.6,607.6 1283.6,611.3 1284.3,611.3 1284.3,607.6 1283.7,607.6 1283.7,601.0 1285.0,601.0 1285.0,607.6 1283.9,607.6 1284.8,607.6 1284.8,601.1 1285.4,601.1 1285.4,607.6 1285.5,607.6 1285.5,599.2 1286.2,599.2 1286.2,591.6 1286.8,591.6 1286.8,599.2 1287.6,599.2 1287.6,590.8 1287.6,590.8 1287.6,598.1 1288.9,598.1 1288.9,590.8 1288.9,590.8 1289.5,590.8 1289.5,600.9 1289.7,600.9 1289.7,604.7 1290.2,604.7 1290.2,600.9 1291.6,600.9 1291.6,607.6 1292.4,607.6 1292.4,600.9 1291.8,600.9 1291.8,596.0 1292.3,596.0 1292.3,600.9 1292.1,600.9 1292.1,611.0 1293.9,611.0 1294.4,611.0 1294.4,621.0 1294.5,621.0 1294.5,627.2 1295.4,627.2 1295.4,621.0 1295.7,621.0 1295.7,631.0 1296.1,631.0 1296.1,625.7 1297.1,625.7 1297.1,631.0 1296.6,631.0 1296.6,634.3 1297.3,634.3 1297.3,641.0 1297.2,641.0 1297.7,641.0 1297.7,645.7 1298.4,645.7 1298.4,641.0 1297.7,641.0 1297.7,634.7 1298.3,634.7 1298.3,641.0 1298.7,641.0 1298.7,626.6 1299.4,626.6 1299.4,632.6 1299.3,632.6 1299.3,640.9 1300.6,640.9 1300.6,632.6 1301.7,632.6 1301.7,628.9 1302.4,628.9 1302.4,624.3 1302.3,624.3 1302.8,624.3 1302.8,633.0 1303.2,633.0 1303.2,637.5 1304.4,637.5 1304.4,633.0 1303.7,633.0 1303.7,641.7 1304.2,641.7 1304.2,635.1 1304.7,635.1 1304.7,641.7 1304.8,641.7 1304.8,645.5 1306.0,645.5 1306.0,641.7 1305.0,641.7 1305.0,650.4 1305.8,650.4 1305.8,659.1 1306.8,659.1 1306.8,667.8 1307.3,667.8 1307.5,667.8 1307.5,662.0 1308.2,662.0 1308.2,658.4 1308.5,658.4 1308.5,645.5 1309.2,645.5 1309.2,649.1 1308.6,649.1 1308.6,655.7 1309.1,655.7 1309.1,649.1 1308.8,649.1 1308.8,639.7 1309.7,639.7 1309.7,626.9 1310.4,626.9 1310.4,630.4 1310.2,630.4 1310.2,621.0 1310.4,621.0 1310.4,615.3 1311.6,615.3 1311.6,621.0 1310.6,621.0 1310.8,621.0 1310.8,615.8 1311.9,615.8 1311.9,621.0 1311.1,621.0 1311.1,635.4 1311.8,635.4 1311.8,630.2 1312.7,630.2 1312.7,639.4 1313.4,639.4 1313.4,652.3 1314.1,652.3 1314.1,648.5 1313.9,648.5 1313.9,643.2 1315.1,643.2 1315.1,648.5 1315.0,648.5 1315.0,662.6 1315.7,662.6 1315.7,657.7 1315.2,657.7 1315.2,662.2 1315.8,662.2 1315.8,657.7 1315.6,657.7 1316.0,657.7 1316.0,649.3 1316.3,649.3 1316.3,641.0 1316.8,641.0 1316.8,634.2 1317.5,634.2 1317.5,641.0 1317.0,641.0 1317.0,632.6 1317.6,632.6 1317.6,628.7 1318.3,628.7 1318.3,624.3 1318.0,624.3 1318.0,620.4 1319.3,620.4 1319.3,624.3 1318.1,624.3 1318.1,615.9 1318.7,615.9 1318.7,607.6 1319.0,607.6 1319.9,607.6 1319.9,598.7 1320.4,598.7 1320.4,593.2 1321.3,593.2 1321.3,598.7 1320.5,598.7 1320.5,589.7 1321.3,589.7 1321.3,583.8 1321.9,583.8 1321.9,589.7 1322.1,589.7 1322.1,580.8 1322.3,580.8 1324.1,580.8 1324.1,594.2 1324.8,594.2 1324.8,589.1 1325.4,589.1 1325.4,580.5 1325.9,580.5 1325.9,589.1 1326.5,589.1 1326.5,583.1 1327.3,583.1 1327.3,589.1 1326.6,589.1 1326.6,593.0 1327.3,593.0 1327.3,597.5 1327.2,597.5 1327.2,593.9 1328.2,593.9 1328.2,597.5 1327.3,597.5 1327.9,597.5 1327.9,599.0 1328.9,599.0 1328.9,597.5 1327.9,597.5 1327.9,592.9 1328.6,592.9 1328.6,587.5 1328.3,587.5 1328.3,581.2 1329.1,581.2 1329.1,587.5 1329.0,587.5 1329.0,581.8 1329.7,581.8 1329.7,577.4 1330.0,577.4 1330.0,567.4 1330.7,567.4 1330.9,567.4 1330.9,571.1 1331.9,571.1 1331.9,567.4 1333.4,567.4 1333.4,563.1 1334.1,563.1 1334.1,557.4 1334.0,557.4 1334.0,564.0 1335.3,564.0 1335.3,557.4 1334.9,557.4 1334.9,562.3 1335.9,562.3 1335.9,557.4 1335.7,557.4 1335.8,557.4 1335.8,552.4 1336.5,552.4 1336.5,557.4 1336.5,557.4 1336.5,542.9 1337.2,542.9 1337.2,548.2 1337.8,548.2 1337.8,551.9 1338.6,551.9 1338.6,548.2 1337.8,548.2 1337.8,545.6 1338.5,545.6 1338.5,539.0 1339.0,539.0 1339.3,539.0 1339.3,547.8 1339.6,547.8 1339.6,542.2 1340.5,542.2 1340.5,547.8 1339.8,547.8 1339.8,543.4 1340.7,543.4 1340.7,547.8 1341.0,547.8 1341.0,556.5 1341.5,556.5 1341.5,551.8 1342.4,551.8 1342.4,556.5 1342.4,556.5 1342.4,565.2 1343.4,565.2 1343.4,580.7 1344.1,580.7 1344.1,574.0 1344.0,574.0 1344.7,574.0 1344.7,576.3 1345.4,576.3 1345.4,582.4 1346.6,582.4 1346.6,590.8 1346.9,590.8 1346.9,586.9 1347.7,586.9 1347.7,590.8 1347.8,590.8 1347.8,585.2 1348.8,585.2 1348.8,590.8 1348.0,590.8 1348.5,590.8 1348.5,580.8 1350.4,580.8 1350.4,570.7 1350.8,570.7 1350.8,576.8 1351.9,576.8 1351.9,570.7 1350.9,570.7 1350.9,576.8 1351.6,576.8 1351.6,570.7 1351.6,570.7 1351.6,559.2 1352.3,559.2 1352.3,560.7 1352.4,560.7 1353.5,560.7 1353.5,568.5 1354.1,568.5 1354.1,576.3 1354.7,576.3 1354.7,568.5 1354.5,568.5 1354.5,576.2 1356.0,576.2 1356.0,569.0 1356.9,569.0 1356.9,576.2 1356.2,576.2 1356.2,584.0 1356.8,584.0 1356.8,591.8 1357.4,591.8 1357.4,584.0 1357.4,584.0 1358.7,584.0 1358.7,576.2 1360.4,576.2 1360.4,563.9 1361.1,563.9 1361.1,568.5 1361.4,568.5 1361.4,575.3 1362.5,575.3 1362.5,568.5 1361.5,568.5 1361.5,559.9 1362.7,559.9 1362.7,568.5 1361.6,568.5 1361.6,565.4 1362.3,565.4 1362.3,560.7 1362.0,560.7 1362.0,565.4 1362.7,565.4 1362.7,560.7 1362.5,560.7 1362.7,560.7 1362.7,545.0 1363.4,545.0 1363.4,551.9 1363.1,551.9 1363.1,556.9 1364.4,556.9 1364.4,551.9 1363.6,551.9 1363.6,555.4 1364.7,555.4 1364.7,551.9 1363.7,551.9 1363.7,543.2 1364.5,543.2 1364.5,534.4 1365.5,534.4 1365.5,528.9 1366.2,528.9 1366.2,525.6 1365.8,525.6 1366.0,525.6 1366.0,534.0 1366.5,534.0 1366.5,537.9 1367.4,537.9 1367.4,534.0 1366.6,534.0 1366.6,546.2 1367.3,546.2 1367.3,542.3 1367.5,542.3 1367.5,544.6 1368.2,544.6 1368.2,550.7 1368.0,550.7 1368.0,553.7 1368.7,553.7 1368.7,559.0 1368.2,559.0 1368.2,551.1 1369.1,551.1 1369.1,559.0 1368.8,559.0 1368.8,572.8 1369.5,572.8 1369.5,567.4 1369.0,567.4 1369.6,567.4 1369.6,563.9 1370.1,563.9 1370.1,567.4 1370.7,567.4 1370.7,579.0 1371.4,579.0 1371.4,575.7 1370.8,575.7 1370.8,570.6 1371.9,570.6 1371.9,575.7 1372.1,575.7 1372.1,571.9 1373.3,571.9 1373.3,575.7 1373.3,575.7 1373.3,584.0 1374.2,584.0 1374.5,584.0 1374.5,593.0 1374.9,593.0 1374.9,601.9 1375.7,601.9 1375.7,610.9 1376.0,610.9 1376.0,619.8 1376.2,619.8 1376.2,614.8 1376.7,614.8 1376.7,619.8 1376.6,619.8 1376.6,628.8 1376.9,628.8 1376.9,621.0 1377.6,621.0 1377.6,628.8 1377.1,628.8 1377.1,637.7 1377.5,637.7 1377.6,637.7 1377.6,631.8 1378.5,631.8 1378.5,637.7 1379.5,637.7 1379.5,647.7 1380.0,647.7 1380.0,643.0 1380.6,643.0 1380.6,647.7 1380.9,647.7 1379.2,674.4"/>
<g stroke="#5698d4" fill="none" stroke-linecap="round">
<line x1="127.3" y1="906.9" x2="1411.5" y2="906.9" stroke-width="2.2"/>
<line x1="132.8" y1="275.4" x2="132.8" y2="906.5" stroke-width="3.4"/>
<line x1="144.5" y1="275.4" x2="144.5" y2="906.5" stroke-width="2.8"/>
<line x1="202.3" y1="275.4" x2="202.3" y2="906.5" stroke-width="2.8"/>
<line x1="214.0" y1="275.4" x2="214.0" y2="906.5" stroke-width="2.8"/>
<line x1="219.0" y1="275.4" x2="219.0" y2="906.5" stroke-width="2.8"/>
<line x1="245.2" y1="275.4" x2="245.2" y2="906.5" stroke-width="2.8"/>
<line x1="251.5" y1="275.4" x2="251.5" y2="906.5" stroke-width="2.8"/>
<line x1="281.0" y1="275.4" x2="281.0" y2="906.5" stroke-width="2.8"/>
<line x1="410.0" y1="275.4" x2="410.0" y2="906.5" stroke-width="3.6"/>
<line x1="430.0" y1="275.4" x2="430.0" y2="906.5" stroke-width="2.8"/>
<line x1="548.8" y1="275.4" x2="548.8" y2="906.5" stroke-width="2.8"/>
<line x1="591.3" y1="275.4" x2="591.3" y2="906.5" stroke-width="2.8"/>
<line x1="623.4" y1="275.4" x2="623.4" y2="906.5" stroke-width="2.8"/>
<line x1="642.1" y1="275.4" x2="642.1" y2="906.5" stroke-width="3.4"/>
<line x1="644.9" y1="275.4" x2="644.9" y2="906.5" stroke-width="3.4"/>
<line x1="692.6" y1="275.4" x2="692.6" y2="906.5" stroke-width="2.8"/>
<line x1="753.5" y1="275.4" x2="753.5" y2="906.5" stroke-width="2.8"/>
<line x1="781.2" y1="275.4" x2="781.2" y2="906.5" stroke-width="2.8"/>
<line x1="793.6" y1="275.4" x2="793.6" y2="906.5" stroke-width="2.8"/>
<line x1="805.0" y1="275.4" x2="805.0" y2="906.5" stroke-width="2.8"/>
<line x1="825.4" y1="275.4" x2="825.4" y2="906.5" stroke-width="2.8"/>
<line x1="878.6" y1="275.4" x2="878.6" y2="906.5" stroke-width="2.8"/>
<line x1="896.0" y1="275.4" x2="896.0" y2="906.5" stroke-width="2.8"/>
<line x1="984.6" y1="275.4" x2="984.6" y2="906.5" stroke-width="2.8"/>
<line x1="1020.7" y1="275.4" x2="1020.7" y2="906.5" stroke-width="2.8"/>
<line x1="1023.8" y1="275.4" x2="1023.8" y2="906.5" stroke-width="2.8"/>
<line x1="1035.4" y1="275.4" x2="1035.4" y2="906.5" stroke-width="2.8"/>
<line x1="1041.3" y1="275.4" x2="1041.3" y2="906.5" stroke-width="2.8"/>
<line x1="1048.3" y1="275.4" x2="1048.3" y2="906.5" stroke-width="2.8"/>
<line x1="1050.7" y1="275.4" x2="1050.7" y2="906.5" stroke-width="2.8"/>
<line x1="1058.0" y1="275.4" x2="1058.0" y2="906.5" stroke-width="2.8"/>
<line x1="1067.0" y1="275.4" x2="1067.0" y2="906.5" stroke-width="2.8"/>
<line x1="1145.0" y1="275.4" x2="1145.0" y2="906.5" stroke-width="2.8"/>
<line x1="1354.0" y1="275.4" x2="1354.0" y2="906.5" stroke-width="2.8"/>
</g>
<path d="M153.2,477.1C155.0,471.0 160.5,453.1 163.9,440.3C167.3,427.5 170.9,412.4 173.5,400.2C176.1,387.9 177.7,376.8 179.3,366.8C180.9,356.8 181.8,349.8 183.1,340.0C184.4,330.2 185.7,318.8 187.0,308.0C188.3,297.2 189.8,285.9 191.0,275.4C192.2,264.9 193.4,254.2 194.4,245.0C195.4,235.8 196.2,227.7 197.2,220.0C198.2,212.3 199.1,205.1 200.2,199.0C201.3,192.9 202.5,187.2 203.8,183.5C205.1,179.8 206.4,177.2 207.8,177.0C209.2,176.8 210.8,177.8 212.4,182.3C214.0,186.8 215.5,194.2 217.4,204.0C219.3,213.8 221.8,230.2 224.0,240.8C226.2,251.4 228.0,259.8 230.8,267.6C233.6,275.4 237.7,282.2 240.8,287.6C243.9,293.1 247.1,297.8 249.2,300.3C251.3,302.8 251.8,303.1 253.5,302.7C255.2,302.3 256.8,304.1 259.2,297.7C261.6,291.3 265.1,275.3 267.6,264.2C270.1,253.0 272.0,240.0 274.2,230.8C276.4,221.6 278.8,213.6 281.0,209.0C283.2,204.4 285.4,203.0 287.6,203.0C289.8,203.0 291.8,204.9 294.3,209.0C296.8,213.1 299.9,221.0 302.7,227.4C305.5,233.8 308.2,238.0 311.0,247.5C313.8,257.0 316.9,273.7 319.4,284.3C321.9,294.9 324.1,304.6 326.0,311.0C327.9,317.4 329.6,320.4 331.0,322.7C332.4,325.0 333.1,325.3 334.4,325.0C335.6,324.7 336.8,326.1 338.5,321.0C340.2,315.9 342.7,304.3 344.5,294.3C346.3,284.3 348.1,270.3 349.5,260.9C350.9,251.5 351.9,244.8 353.0,238.0C354.1,231.2 355.0,225.7 356.1,220.0C357.2,214.3 358.2,208.8 359.5,203.6C360.8,198.4 362.3,193.6 363.9,188.8C365.5,184.1 367.6,178.9 369.3,175.1C371.0,171.3 372.6,168.8 374.2,166.2C375.8,163.6 377.5,161.2 379.2,159.3C380.9,157.4 382.6,155.8 384.1,154.9C385.6,154.0 386.7,153.8 388.0,153.9C389.3,154.0 390.4,154.2 391.9,155.4C393.4,156.6 395.2,158.7 396.9,161.3C398.5,163.9 400.3,167.8 401.8,171.1C403.3,174.4 404.6,178.1 405.7,181.0C406.8,183.9 407.4,185.4 408.7,188.8C410.0,192.2 411.7,196.3 413.4,201.5C415.1,206.7 417.1,213.7 418.8,220.0C420.5,226.3 422.1,232.8 423.6,239.3C425.1,245.8 426.7,252.6 428.0,259.0C429.3,265.4 428.9,264.1 431.4,277.6C433.9,291.1 439.4,318.4 443.0,340.0C446.6,361.6 449.8,383.5 453.2,406.9C456.6,430.3 460.1,456.0 463.2,480.5C466.3,505.0 469.1,530.6 471.6,554.0C474.1,577.4 476.4,603.7 478.3,621.0C480.2,638.3 481.8,648.8 483.3,657.7C484.9,666.6 486.2,672.5 487.6,674.4C489.0,676.3 490.1,677.8 491.6,669.4C493.1,661.0 495.1,648.0 496.7,624.3C498.3,600.6 499.8,560.8 501.2,527.3C502.6,493.8 504.1,454.8 505.2,423.6C506.3,392.4 506.9,364.7 507.9,340.0C508.8,315.3 509.8,295.4 510.9,275.4C512.0,255.4 513.2,235.1 514.4,220.0C515.6,204.9 516.7,192.9 518.0,185.0C519.3,177.1 520.8,172.7 522.3,172.5C523.8,172.3 525.1,173.8 527.0,184.0C528.9,194.2 531.5,215.6 533.7,234.0C535.9,252.4 538.3,276.6 540.4,294.3C542.5,312.0 544.5,320.1 546.4,340.0C548.3,359.9 550.2,388.5 552.0,413.6C553.8,438.7 555.3,464.9 557.0,490.5C558.7,516.1 560.6,548.5 562.0,567.4C563.4,586.3 564.4,595.7 565.5,604.0C566.6,612.3 567.8,617.0 568.9,617.0C570.0,617.0 570.8,613.9 572.0,604.0C573.2,594.1 574.6,579.1 576.0,557.4C577.4,535.7 579.1,501.7 580.6,473.8C582.1,445.9 583.8,412.3 585.0,390.0C586.2,367.7 587.1,358.7 588.0,340.0C588.9,321.3 589.6,296.4 590.6,277.6C591.6,258.8 592.9,239.7 594.0,227.4C595.1,215.1 595.6,209.7 597.3,204.0C599.0,198.3 601.5,195.7 604.0,193.3C606.5,190.9 609.8,190.2 612.3,189.6C614.8,189.0 617.2,188.7 619.0,190.0C620.8,191.3 621.6,190.5 623.0,197.3C624.4,204.1 625.8,217.4 627.4,230.8C629.0,244.2 630.5,259.4 632.4,277.6C634.3,295.8 637.1,322.4 639.0,340.0C640.9,357.6 642.3,369.6 644.0,383.5C645.7,397.4 647.0,410.2 649.0,423.6C651.0,437.0 653.5,452.3 655.8,463.7C658.0,475.1 660.3,484.5 662.5,492.0C664.7,499.5 667.2,506.6 669.2,508.9C671.2,511.1 672.5,510.2 674.2,505.5C675.9,500.8 677.5,492.5 679.2,480.5C680.9,468.5 682.9,450.4 684.2,433.6C685.5,416.9 686.3,395.6 687.2,380.0C688.1,364.4 688.7,357.1 689.6,340.0C690.5,322.9 691.5,295.8 692.8,277.6C694.1,259.4 696.1,241.6 697.6,230.8C699.1,220.0 700.6,214.4 702.0,213.0C703.4,211.6 704.2,213.3 706.0,222.4C707.8,231.5 710.5,253.4 712.7,267.6C714.9,281.8 717.5,299.1 719.4,307.7C721.3,316.3 722.7,319.4 724.4,319.4C726.1,319.4 727.5,319.1 729.4,307.7C731.3,296.3 733.8,270.9 736.0,250.8C738.2,230.7 740.5,204.0 742.8,187.3C745.0,170.6 747.5,153.8 749.5,150.5C751.5,147.2 752.8,154.4 754.5,167.2C756.2,180.0 757.8,205.1 759.5,227.4C761.2,249.7 763.4,282.2 764.5,301.0C765.6,319.8 765.7,326.0 766.3,340.0C766.9,354.0 767.7,371.7 768.3,385.0C768.9,398.3 769.4,408.9 769.9,420.0C770.4,431.1 770.9,441.0 771.5,451.5C772.1,462.0 773.0,473.5 773.8,482.9C774.6,492.3 775.4,500.8 776.2,508.1C777.0,515.5 777.6,521.8 778.5,527.0C779.4,532.2 780.5,535.9 781.7,539.6C782.9,543.3 784.2,546.1 785.6,549.0C787.0,551.9 788.7,554.7 790.3,556.9C791.9,559.1 793.4,561.1 795.1,562.4C796.8,563.7 799.3,564.8 800.6,564.7C801.9,564.6 802.2,563.4 802.9,561.6C803.6,559.8 804.1,559.0 804.8,553.7C805.5,548.5 806.2,539.3 806.9,530.1C807.6,520.9 808.4,509.2 809.2,498.7C810.0,488.2 810.9,476.4 811.6,467.2C812.3,458.0 813.0,451.5 813.6,443.6C814.2,435.7 814.9,429.8 815.5,420.0C816.1,410.2 816.8,398.3 817.5,385.0C818.2,371.7 818.6,359.6 819.5,340.0C820.4,320.4 821.6,288.6 823.0,267.6C824.4,246.6 826.2,226.0 828.0,214.0C829.8,202.0 831.7,195.7 833.7,195.7C835.7,195.7 837.7,204.2 839.8,214.0C841.9,223.8 844.2,243.0 846.4,254.2C848.6,265.4 851.0,275.1 853.2,281.0C855.4,286.9 857.6,289.0 859.8,289.3C862.0,289.6 864.3,285.7 866.5,282.6C868.7,279.6 871.0,273.5 873.2,271.0C875.5,268.5 877.8,266.5 880.0,267.6C882.2,268.7 884.4,272.0 886.6,277.6C888.8,283.2 891.1,293.2 893.3,301.0C895.5,308.8 898.0,319.5 900.0,324.4C902.0,329.3 903.3,331.0 905.0,330.4C906.7,329.8 908.0,330.4 910.0,321.0C912.0,311.6 914.5,294.2 916.7,274.2C918.9,254.1 921.2,224.1 923.4,200.7C925.6,177.3 927.9,147.9 930.0,133.8C932.1,119.7 933.8,114.9 935.8,116.0C937.8,117.1 939.7,127.5 941.8,140.5C943.9,153.5 946.3,177.8 948.5,194.0C950.7,210.2 953.0,228.0 955.2,237.5C957.4,247.0 959.6,250.8 961.8,250.8C964.0,250.8 966.0,245.3 968.5,237.5C971.0,229.7 974.1,212.7 976.9,204.0C979.7,195.3 981.9,190.6 985.2,185.6C988.6,180.6 993.4,176.8 997.0,174.0C1000.6,171.2 1004.2,168.3 1007.0,168.9C1009.8,169.5 1011.8,170.5 1013.7,177.3C1015.7,184.2 1017.3,199.6 1018.7,210.0C1020.1,220.4 1020.9,231.2 1021.9,240.0C1022.9,248.8 1023.6,255.6 1024.5,263.0C1025.4,270.4 1026.2,275.6 1027.2,284.2C1028.2,292.8 1029.5,305.1 1030.7,314.3C1031.9,323.5 1033.2,332.9 1034.2,339.1C1035.2,345.3 1035.9,348.1 1036.9,351.5C1037.9,354.9 1039.2,358.9 1040.4,359.5C1041.6,360.1 1043.0,357.5 1044.0,355.0C1045.0,352.5 1045.6,349.4 1046.6,344.4C1047.6,339.4 1048.9,331.5 1050.2,325.0C1051.5,318.5 1053.1,311.1 1054.6,305.5C1056.1,299.9 1057.6,294.5 1059.0,291.3C1060.4,288.1 1061.8,286.4 1063.1,286.4C1064.4,286.4 1065.8,288.1 1067.0,291.3C1068.2,294.5 1069.2,299.3 1070.5,305.5C1071.8,311.7 1073.5,320.2 1075.0,328.5C1076.5,336.8 1077.9,346.8 1079.4,355.0C1080.9,363.2 1082.3,372.1 1083.8,378.0C1085.3,383.9 1086.9,389.5 1088.2,390.4C1089.5,391.3 1090.6,387.8 1091.8,383.4C1093.0,379.0 1094.1,372.5 1095.3,363.9C1096.5,355.3 1097.6,343.8 1098.8,332.0C1100.0,320.2 1101.2,305.5 1102.4,293.1C1103.6,280.7 1104.9,267.6 1105.9,257.7C1106.9,247.8 1107.1,243.5 1108.3,234.0C1109.5,224.5 1111.5,208.2 1113.3,200.7C1115.1,193.2 1117.3,189.0 1119.3,189.0C1121.2,189.0 1122.9,193.7 1125.0,200.7C1127.1,207.7 1129.8,222.7 1131.7,230.8C1133.7,238.9 1135.0,245.0 1136.7,249.2C1138.4,253.4 1140.0,255.9 1141.7,255.9C1143.4,255.9 1144.8,254.5 1146.7,249.2C1148.7,243.9 1151.2,232.7 1153.4,224.0C1155.6,215.3 1157.9,203.1 1160.0,197.3C1162.1,191.5 1164.0,188.4 1166.0,189.0C1168.0,189.6 1170.1,193.2 1171.8,200.7C1173.5,208.2 1175.1,224.1 1176.3,234.0C1177.5,243.9 1178.0,251.7 1178.7,260.0C1179.4,268.3 1179.9,273.8 1180.7,283.6C1181.5,293.4 1182.4,307.2 1183.6,319.0C1184.8,330.8 1186.3,344.3 1187.6,354.5C1188.9,364.7 1190.4,373.9 1191.5,380.0C1192.6,386.1 1193.4,388.7 1194.4,391.0C1195.4,393.3 1196.2,394.4 1197.4,393.9C1198.6,393.4 1199.9,391.0 1201.5,388.0C1203.1,385.0 1205.1,381.4 1207.2,376.1C1209.3,370.9 1212.0,360.8 1214.1,356.5C1216.2,352.2 1218.2,350.6 1220.0,350.6C1221.8,350.6 1223.2,351.9 1225.0,356.5C1226.8,361.1 1228.6,370.2 1230.9,378.1C1233.2,386.0 1236.4,397.1 1238.7,403.7C1241.0,410.3 1242.0,413.2 1244.6,417.5C1247.2,421.8 1251.5,426.4 1254.5,429.3C1257.5,432.2 1260.1,433.8 1262.4,435.2C1264.7,436.6 1266.7,437.8 1268.3,437.8C1269.9,437.8 1271.0,438.6 1272.2,435.2C1273.4,431.8 1274.2,425.4 1275.2,417.5C1276.2,409.6 1277.1,399.5 1278.1,388.0C1279.1,376.5 1280.1,361.7 1281.1,348.6C1282.1,335.5 1283.0,321.4 1284.0,309.2C1285.0,297.0 1286.2,284.7 1287.0,275.7C1287.8,266.7 1288.0,265.1 1288.7,255.0C1289.5,244.9 1290.3,228.7 1291.5,215.0C1292.7,201.3 1294.1,182.4 1296.0,173.0C1297.9,163.6 1300.8,159.2 1303.0,158.4C1305.2,157.6 1306.9,161.5 1309.0,168.0C1311.1,174.5 1313.4,187.4 1315.6,197.3C1317.8,207.2 1319.8,217.9 1322.3,227.4C1324.8,236.9 1327.9,244.7 1330.7,254.2C1333.5,263.7 1336.5,276.5 1339.0,284.3C1341.5,292.1 1343.7,297.4 1345.7,301.0C1347.7,304.6 1348.8,307.1 1350.8,306.0C1352.8,304.9 1355.2,300.1 1357.4,294.3C1359.6,288.5 1361.8,279.4 1364.0,271.0C1366.2,262.6 1368.7,252.1 1370.8,244.0C1372.9,235.9 1375.8,226.0 1376.8,222.4" fill="none" stroke="#00b050" stroke-width="2.4" stroke-linejoin="round" stroke-linecap="round"/>
<g fill="#ed7d31">
<rect x="122.9" y="736.7" width="10.4" height="10.4"/>
<rect x="133.6" y="686.1" width="10.4" height="10.4"/>
<rect x="160.4" y="711.4" width="10.4" height="10.4"/>
<rect x="202.8" y="673.5" width="10.4" height="10.4"/>
<rect x="225.6" y="698.7" width="10.4" height="10.4"/>
<rect x="229.6" y="812.5" width="10.4" height="10.4"/>
<rect x="244.0" y="711.4" width="10.4" height="10.4"/>
<rect x="259.0" y="635.5" width="10.4" height="10.4"/>
<rect x="290.8" y="698.7" width="10.4" height="10.4"/>
<rect x="308.2" y="736.7" width="10.4" height="10.4"/>
<rect x="321.6" y="698.7" width="10.4" height="10.4"/>
<rect x="328.2" y="686.1" width="10.4" height="10.4"/>
<rect x="348.3" y="761.9" width="10.4" height="10.4"/>
<rect x="353.3" y="787.2" width="10.4" height="10.4"/>
<rect x="369.4" y="850.4" width="10.4" height="10.4"/>
<rect x="376.1" y="724.0" width="10.4" height="10.4"/>
<rect x="385.4" y="673.5" width="10.4" height="10.4"/>
<rect x="421.2" y="761.9" width="10.4" height="10.4"/>
<rect x="436.3" y="660.8" width="10.4" height="10.4"/>
<rect x="461.4" y="711.4" width="10.4" height="10.4"/>
<rect x="477.4" y="686.1" width="10.4" height="10.4"/>
<rect x="488.1" y="761.9" width="10.4" height="10.4"/>
<rect x="525.5" y="660.8" width="10.4" height="10.4"/>
<rect x="536.2" y="686.1" width="10.4" height="10.4"/>
<rect x="544.3" y="660.8" width="10.4" height="10.4"/>
<rect x="552.3" y="724.0" width="10.4" height="10.4"/>
<rect x="561.3" y="686.1" width="10.4" height="10.4"/>
<rect x="569.3" y="774.6" width="10.4" height="10.4"/>
<rect x="581.4" y="812.5" width="10.4" height="10.4"/>
<rect x="605.5" y="724.0" width="10.4" height="10.4"/>
<rect x="620.2" y="660.8" width="10.4" height="10.4"/>
<rect x="640.2" y="635.5" width="10.4" height="10.4"/>
<rect x="649.6" y="711.4" width="10.4" height="10.4"/>
<rect x="653.6" y="711.4" width="10.4" height="10.4"/>
<rect x="665.5" y="686.1" width="10.4" height="10.4"/>
<rect x="671.2" y="686.1" width="10.4" height="10.4"/>
<rect x="681.4" y="724.0" width="10.4" height="10.4"/>
<rect x="692.4" y="698.7" width="10.4" height="10.4"/>
<rect x="705.8" y="724.0" width="10.4" height="10.4"/>
<rect x="714.8" y="736.7" width="10.4" height="10.4"/>
<rect x="720.8" y="736.7" width="10.4" height="10.4"/>
<rect x="724.2" y="686.1" width="10.4" height="10.4"/>
<rect x="740.1" y="698.7" width="10.4" height="10.4"/>
<rect x="749.8" y="698.7" width="10.4" height="10.4"/>
<rect x="759.0" y="660.8" width="10.4" height="10.4"/>
<rect x="784.4" y="686.1" width="10.4" height="10.4"/>
<rect x="812.8" y="711.4" width="10.4" height="10.4"/>
<rect x="871.0" y="698.7" width="10.4" height="10.4"/>
<rect x="876.0" y="825.2" width="10.4" height="10.4"/>
<rect x="934.8" y="660.8" width="10.4" height="10.4"/>
<rect x="948.3" y="686.1" width="10.4" height="10.4"/>
<rect x="956.3" y="787.2" width="10.4" height="10.4"/>
<rect x="964.3" y="635.5" width="10.4" height="10.4"/>
<rect x="968.3" y="686.1" width="10.4" height="10.4"/>
<rect x="988.3" y="711.4" width="10.4" height="10.4"/>
<rect x="998.5" y="711.4" width="10.4" height="10.4"/>
<rect x="1022.1" y="711.4" width="10.4" height="10.4"/>
<rect x="1065.6" y="648.2" width="10.4" height="10.4"/>
<rect x="1091.0" y="648.2" width="10.4" height="10.4"/>
<rect x="1108.1" y="673.5" width="10.4" height="10.4"/>
<rect x="1114.8" y="686.1" width="10.4" height="10.4"/>
<rect x="1121.5" y="648.2" width="10.4" height="10.4"/>
<rect x="1129.8" y="686.1" width="10.4" height="10.4"/>
<rect x="1140.2" y="787.2" width="10.4" height="10.4"/>
<rect x="1156.3" y="660.8" width="10.4" height="10.4"/>
<rect x="1168.3" y="660.8" width="10.4" height="10.4"/>
<rect x="1185.8" y="686.1" width="10.4" height="10.4"/>
<rect x="1189.8" y="761.9" width="10.4" height="10.4"/>
<rect x="1220.1" y="660.8" width="10.4" height="10.4"/>
<rect x="1238.8" y="660.8" width="10.4" height="10.4"/>
<rect x="1252.2" y="698.7" width="10.4" height="10.4"/>
<rect x="1259.3" y="673.5" width="10.4" height="10.4"/>
<rect x="1276.1" y="749.3" width="10.4" height="10.4"/>
<rect x="1281.8" y="749.3" width="10.4" height="10.4"/>
<rect x="1287.0" y="673.5" width="10.4" height="10.4"/>
<rect x="1308.4" y="724.0" width="10.4" height="10.4"/>
<rect x="1316.5" y="837.8" width="10.4" height="10.4"/>
<rect x="1330.8" y="774.6" width="10.4" height="10.4"/>
<rect x="1345.6" y="825.2" width="10.4" height="10.4"/>
<rect x="1358.8" y="736.7" width="10.4" height="10.4"/>
<rect x="1381.8" y="660.8" width="10.4" height="10.4"/>
<rect x="1401.8" y="698.7" width="10.4" height="10.4"/>
</g>
<g fill="#ffc000">
<rect x="199.7" y="901.1" width="10.4" height="10.4"/>
<rect x="225.7" y="901.1" width="10.4" height="10.4"/>
<rect x="251.7" y="901.1" width="10.4" height="10.4"/>
<rect x="277.7" y="901.1" width="10.4" height="10.4"/>
<rect x="303.8" y="901.1" width="10.4" height="10.4"/>
<rect x="329.7" y="901.1" width="10.4" height="10.4"/>
<rect x="355.8" y="901.1" width="10.4" height="10.4"/>
<rect x="381.8" y="901.1" width="10.4" height="10.4"/>
<rect x="511.8" y="901.1" width="10.4" height="10.4"/>
<rect x="563.8" y="901.1" width="10.4" height="10.4"/>
<rect x="589.8" y="901.1" width="10.4" height="10.4"/>
<rect x="615.9" y="901.1" width="10.4" height="10.4"/>
<rect x="667.9" y="901.1" width="10.4" height="10.4"/>
<rect x="771.9" y="901.1" width="10.4" height="10.4"/>
<rect x="797.9" y="901.1" width="10.4" height="10.4"/>
<rect x="823.9" y="901.1" width="10.4" height="10.4"/>
<rect x="849.9" y="901.1" width="10.4" height="10.4"/>
<rect x="875.9" y="901.1" width="10.4" height="10.4"/>
<rect x="927.9" y="901.1" width="10.4" height="10.4"/>
<rect x="953.9" y="901.1" width="10.4" height="10.4"/>
<rect x="980.0" y="901.1" width="10.4" height="10.4"/>
<rect x="1006.0" y="901.1" width="10.4" height="10.4"/>
<rect x="1032.0" y="901.1" width="10.4" height="10.4"/>
<rect x="1058.0" y="901.1" width="10.4" height="10.4"/>
<rect x="1084.0" y="901.1" width="10.4" height="10.4"/>
<rect x="1110.0" y="901.1" width="10.4" height="10.4"/>
<rect x="1136.0" y="901.1" width="10.4" height="10.4"/>
<rect x="1214.0" y="901.1" width="10.4" height="10.4"/>
<rect x="1240.0" y="901.1" width="10.4" height="10.4"/>
<rect x="1266.0" y="901.1" width="10.4" height="10.4"/>
<rect x="1292.0" y="901.1" width="10.4" height="10.4"/>
<rect x="1318.1" y="901.1" width="10.4" height="10.4"/>
<rect x="408.2" y="550.5" width="10.4" height="10.4"/>
<rect x="433.6" y="568.8" width="10.4" height="10.4"/>
<rect x="460.4" y="614.1" width="10.4" height="10.4"/>
<rect x="485.1" y="576.3" width="10.4" height="10.4"/>
<rect x="537.6" y="511.1" width="10.4" height="10.4"/>
<rect x="641.2" y="548.8" width="10.4" height="10.4"/>
<rect x="693.4" y="524.8" width="10.4" height="10.4"/>
<rect x="719.8" y="443.2" width="10.4" height="10.4"/>
<rect x="745.6" y="370.6" width="10.4" height="10.4"/>
<rect x="901.4" y="516.8" width="10.4" height="10.4"/>
<rect x="1161.6" y="611.8" width="10.4" height="10.4"/>
<rect x="1188.0" y="606.0" width="10.4" height="10.4"/>
</g>
<rect x="349.6" y="137.3" width="464" height="763.2" rx="76" ry="76" fill="#5b9bd5" fill-opacity="0.3"/>
<path d="M635.6,162.2H653V221.6H662.5L644.2,240L626,221.6H635.6Z" fill="#5b9bd5" stroke="#41719c" stroke-width="1.7" stroke-linejoin="miter"/>
<circle cx="818.9" cy="717.1" r="21.1" fill="#ff0000" fill-opacity="0.35" stroke="#2f6aa3" stroke-width="2.7"/>
<line x1="205" y1="48.8" x2="245.7" y2="48.8" stroke="#a5a5a5" stroke-width="2.2"/>
<line x1="205" y1="85.4" x2="245.7" y2="85.4" stroke="#5b9bd5" stroke-width="2.2"/>
<rect x="220.3" y="116.4" width="10.2" height="10.2" fill="#ffc000"/>
<text x="250.6" y="59.8">G2f3p</text>
<text x="250.6" y="95.8">groups of rare codons</text>
<text x="250.6" y="131.1">correlation dots</text>
<line x1="876.5" y1="49.3" x2="918.2" y2="49.3" stroke="#00b050" stroke-width="2.4"/>
<rect x="892.4" y="80.6" width="10.4" height="10.4" fill="#ed7d31"/>
<text x="922.4" y="60" style="font-size:34.1px">secondary structure of the PLUS strand</text>
<text x="922.5" y="95.7">G-quarduplexes</text>
<text x="97.8" y="918.1" text-anchor="end">0</text>
<text x="97.8" y="791.7" text-anchor="end">0,1</text>
<text x="97.8" y="665.3" text-anchor="end">0,2</text>
<text x="97.8" y="538.9" text-anchor="end">0,3</text>
<text x="97.8" y="412.4" text-anchor="end">0,4</text>
<text x="97.8" y="286.0" text-anchor="end">0,5</text>
<text x="97.8" y="159.6" text-anchor="end">0,6</text>
<text x="97.8" y="33.2" text-anchor="end">0,7</text>
<text x="127.3" y="957.9" text-anchor="middle">0</text>
<text x="322.4" y="957.9" text-anchor="middle">500</text>
<text x="517.4" y="957.9" text-anchor="middle">1000</text>
<text x="712.5" y="957.9" text-anchor="middle">1500</text>
<text x="907.5" y="957.9" text-anchor="middle">2000</text>
<text x="1102.6" y="957.9" text-anchor="middle">2500</text>
<text x="1297.6" y="957.9" text-anchor="middle">3000</text>
<text x="1492.7" y="957.9" text-anchor="middle">3500</text>
<text x="810.5" y="1003.5" text-anchor="middle">The length of the coding region, in codons</text>
<text transform="translate(31.8,519.5) rotate(-90)" text-anchor="middle">Guanine usage in 2-fold degenrated sites</text>
</g>
</svg></body></html>
